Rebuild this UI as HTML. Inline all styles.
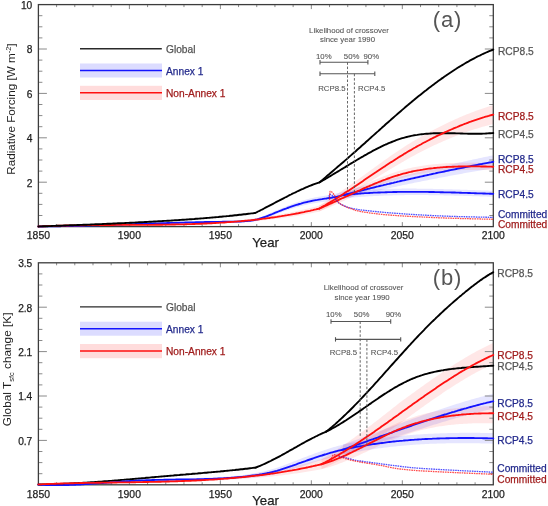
<!DOCTYPE html>
<html><head><meta charset="utf-8"><style>html,body{margin:0;padding:0;background:#fff;}svg{display:block;filter:blur(0.3px);}</style></head><body>
<svg width="548" height="506" viewBox="0 0 548 506">
<rect width="548" height="506" fill="#fff"/>
<path d="M38.40,226.20 L39.90,226.18 L41.40,226.16 L42.90,226.13 L44.40,226.11 L45.90,226.09 L47.40,226.06 L48.90,226.03 L50.40,226.01 L51.90,225.98 L53.40,225.95 L54.90,225.92 L56.40,225.89 L57.90,225.86 L59.40,225.82 L60.90,225.79 L62.40,225.76 L63.90,225.72 L65.40,225.68 L66.90,225.65 L68.40,225.61 L69.90,225.57 L71.40,225.53 L72.90,225.49 L74.40,225.45 L75.90,225.41 L77.40,225.37 L78.90,225.33 L80.40,225.28 L81.90,225.24 L83.40,225.20 L84.90,225.15 L86.40,225.11 L87.90,225.06 L89.40,225.01 L90.90,224.97 L92.40,224.92 L93.90,224.87 L95.40,224.82 L96.90,224.77 L98.40,224.72 L99.90,224.67 L101.40,224.62 L102.90,224.57 L104.40,224.52 L105.90,224.47 L107.40,224.42 L108.90,224.37 L110.40,224.31 L111.90,224.26 L113.40,224.21 L114.90,224.16 L116.40,224.10 L117.90,224.05 L119.40,224.00 L120.90,223.94 L122.40,223.89 L123.90,223.83 L125.40,223.78 L126.90,223.73 L128.40,223.67 L129.90,223.62 L131.40,223.56 L132.90,223.51 L134.40,223.45 L135.90,223.40 L137.40,223.34 L138.90,223.29 L140.40,223.24 L141.90,223.18 L143.40,223.13 L144.90,223.07 L146.40,223.02 L147.90,222.96 L149.40,222.91 L150.90,222.86 L152.40,222.80 L153.90,222.75 L155.40,222.70 L156.90,222.64 L158.40,222.59 L159.90,222.54 L161.40,222.49 L162.90,222.43 L164.40,222.38 L165.90,222.33 L167.40,222.28 L168.90,222.23 L170.40,222.18 L171.90,222.13 L173.40,222.08 L174.90,222.03 L176.40,221.98 L177.90,221.94 L179.40,221.89 L180.90,221.84 L182.40,221.79 L183.90,221.75 L185.40,221.70 L186.90,221.66 L188.40,221.61 L189.90,221.57 L191.40,221.53 L192.90,221.48 L194.40,221.44 L195.90,221.40 L197.40,221.36 L198.90,221.32 L200.40,221.28 L201.90,221.24 L203.40,221.21 L204.90,221.17 L206.40,221.13 L207.90,221.10 L209.40,221.06 L210.90,221.03 L212.40,221.00 L213.90,220.96 L215.40,220.93 L216.90,220.90 L218.40,220.87 L219.90,220.85 L221.40,220.82 L222.90,220.79 L224.40,220.77 L225.90,220.74 L227.40,220.72 L228.90,220.70 L230.40,220.68 L231.90,220.66 L233.40,220.64 L234.90,220.61 L236.40,220.59 L237.90,220.56 L239.40,220.52 L240.90,220.44 L242.40,220.34 L243.90,220.23 L245.40,220.09 L246.90,219.93 L248.40,219.74 L249.90,219.52 L251.40,219.28 L252.90,219.00 L254.40,218.68 L255.90,218.33 L257.40,217.93 L258.90,217.49 L260.40,217.01 L261.90,216.49 L263.40,215.93 L264.90,215.35 L266.40,214.74 L267.90,214.11 L269.40,213.46 L270.90,212.81 L272.40,212.15 L273.90,211.48 L275.40,210.83 L276.90,210.17 L278.40,209.53 L279.90,208.89 L281.40,208.26 L282.90,207.64 L284.40,207.03 L285.90,206.42 L287.40,205.83 L288.90,205.25 L290.40,204.68 L291.90,204.12 L293.40,203.57 L294.90,203.04 L296.40,202.52 L297.90,202.01 L299.40,201.52 L300.90,201.05 L302.40,200.59 L303.90,200.15 L305.40,199.73 L306.90,199.32 L308.40,198.94 L309.90,198.57 L311.40,198.22 L312.90,197.88 L314.40,197.57 L315.90,197.27 L317.40,196.98 L318.90,196.70 L320.40,196.43 L321.90,196.17 L323.40,195.91 L324.90,195.65 L326.40,195.38 L327.90,195.12 L329.40,194.85 L330.90,194.57 L332.40,194.28 L333.90,193.98 L335.40,193.67 L336.90,193.33 L338.40,192.98 L339.90,192.61 L341.40,192.21 L342.90,191.79 L343.80,191.53 L343.80,198.47 L342.90,198.70 L341.40,199.05 L339.90,199.38 L338.40,199.69 L336.90,199.97 L335.40,200.24 L333.90,200.49 L332.40,200.72 L330.90,200.94 L329.40,201.15 L327.90,201.36 L326.40,201.56 L324.90,201.75 L323.40,201.95 L321.90,202.14 L320.40,202.34 L318.90,202.54 L317.40,202.75 L315.90,202.98 L314.40,203.21 L312.90,203.46 L311.40,203.72 L309.90,204.01 L308.40,204.31 L306.90,204.63 L305.40,204.97 L303.90,205.33 L302.40,205.70 L300.90,206.09 L299.40,206.49 L297.90,206.91 L296.40,207.34 L294.90,207.78 L293.40,208.24 L291.90,208.71 L290.40,209.20 L288.90,209.69 L287.40,210.20 L285.90,210.72 L284.40,211.25 L282.90,211.78 L281.40,212.33 L279.90,212.89 L278.40,213.45 L276.90,214.02 L275.40,214.60 L273.90,215.18 L272.40,215.77 L270.90,216.35 L269.40,216.93 L267.90,217.50 L266.40,218.06 L264.90,218.59 L263.40,219.10 L261.90,219.58 L260.40,220.03 L258.90,220.44 L257.40,220.80 L255.90,221.13 L254.40,221.40 L252.90,221.65 L251.40,221.85 L249.90,222.02 L248.40,222.16 L246.90,222.27 L245.40,222.36 L243.90,222.42 L242.40,222.46 L240.90,222.49 L239.40,222.51 L237.90,222.54 L236.40,222.56 L234.90,222.58 L233.40,222.59 L231.90,222.60 L230.40,222.61 L228.90,222.62 L227.40,222.63 L225.90,222.64 L224.40,222.66 L222.90,222.67 L221.40,222.69 L219.90,222.71 L218.40,222.72 L216.90,222.74 L215.40,222.76 L213.90,222.78 L212.40,222.81 L210.90,222.83 L209.40,222.85 L207.90,222.87 L206.40,222.90 L204.90,222.93 L203.40,222.95 L201.90,222.98 L200.40,223.01 L198.90,223.04 L197.40,223.07 L195.90,223.10 L194.40,223.13 L192.90,223.16 L191.40,223.19 L189.90,223.22 L188.40,223.26 L186.90,223.29 L185.40,223.32 L183.90,223.36 L182.40,223.39 L180.90,223.43 L179.40,223.47 L177.90,223.50 L176.40,223.54 L174.90,223.58 L173.40,223.62 L171.90,223.66 L170.40,223.70 L168.90,223.74 L167.40,223.78 L165.90,223.82 L164.40,223.86 L162.90,223.90 L161.40,223.94 L159.90,223.98 L158.40,224.03 L156.90,224.07 L155.40,224.11 L153.90,224.15 L152.40,224.20 L150.90,224.24 L149.40,224.28 L147.90,224.33 L146.40,224.37 L144.90,224.41 L143.40,224.46 L141.90,224.50 L140.40,224.55 L138.90,224.59 L137.40,224.63 L135.90,224.68 L134.40,224.72 L132.90,224.77 L131.40,224.81 L129.90,224.85 L128.40,224.90 L126.90,224.94 L125.40,224.99 L123.90,225.03 L122.40,225.07 L120.90,225.12 L119.40,225.16 L117.90,225.20 L116.40,225.25 L114.90,225.29 L113.40,225.33 L111.90,225.37 L110.40,225.42 L108.90,225.46 L107.40,225.50 L105.90,225.54 L104.40,225.58 L102.90,225.62 L101.40,225.66 L99.90,225.70 L98.40,225.74 L96.90,225.78 L95.40,225.82 L93.90,225.86 L92.40,225.89 L90.90,225.93 L89.40,225.97 L87.90,226.00 L86.40,226.04 L84.90,226.08 L83.40,226.11 L81.90,226.14 L80.40,226.18 L78.90,226.21 L77.40,226.24 L75.90,226.27 L74.40,226.30 L72.90,226.33 L71.40,226.36 L69.90,226.39 L68.40,226.42 L66.90,226.45 L65.40,226.47 L63.90,226.50 L62.40,226.52 L60.90,226.55 L59.40,226.57 L57.90,226.59 L56.40,226.62 L54.90,226.64 L53.40,226.66 L51.90,226.68 L50.40,226.69 L48.90,226.71 L47.40,226.73 L45.90,226.74 L44.40,226.76 L42.90,226.77 L41.40,226.78 L39.90,226.79 L38.40,226.80 Z" fill="#0000ff" fill-opacity="0.10"/>
<path d="M38.40,226.20 L39.90,226.12 L41.40,226.05 L42.90,225.97 L44.40,225.90 L45.90,225.83 L47.40,225.77 L48.90,225.70 L50.40,225.64 L51.90,225.58 L53.40,225.52 L54.90,225.47 L56.40,225.41 L57.90,225.36 L59.40,225.31 L60.90,225.26 L62.40,225.22 L63.90,225.17 L65.40,225.13 L66.90,225.09 L68.40,225.05 L69.90,225.01 L71.40,224.97 L72.90,224.94 L74.40,224.90 L75.90,224.87 L77.40,224.84 L78.90,224.81 L80.40,224.78 L81.90,224.76 L83.40,224.73 L84.90,224.70 L86.40,224.68 L87.90,224.66 L89.40,224.64 L90.90,224.62 L92.40,224.60 L93.90,224.58 L95.40,224.56 L96.90,224.54 L98.40,224.52 L99.90,224.51 L101.40,224.49 L102.90,224.48 L104.40,224.47 L105.90,224.45 L107.40,224.44 L108.90,224.43 L110.40,224.42 L111.90,224.40 L113.40,224.39 L114.90,224.38 L116.40,224.37 L117.90,224.36 L119.40,224.35 L120.90,224.34 L122.40,224.33 L123.90,224.32 L125.40,224.31 L126.90,224.30 L128.40,224.29 L129.90,224.28 L131.40,224.27 L132.90,224.26 L134.40,224.25 L135.90,224.24 L137.40,224.22 L138.90,224.21 L140.40,224.20 L141.90,224.19 L143.40,224.17 L144.90,224.16 L146.40,224.15 L147.90,224.13 L149.40,224.11 L150.90,224.10 L152.40,224.08 L153.90,224.06 L155.40,224.04 L156.90,224.02 L158.40,224.00 L159.90,223.98 L161.40,223.96 L162.90,223.93 L164.40,223.91 L165.90,223.88 L167.40,223.85 L168.90,223.83 L170.40,223.80 L171.90,223.76 L173.40,223.73 L174.90,223.70 L176.40,223.66 L177.90,223.63 L179.40,223.59 L180.90,223.55 L182.40,223.51 L183.90,223.46 L185.40,223.42 L186.90,223.37 L188.40,223.32 L189.90,223.27 L191.40,223.22 L192.90,223.16 L194.40,223.11 L195.90,223.05 L197.40,222.99 L198.90,222.93 L200.40,222.86 L201.90,222.80 L203.40,222.73 L204.90,222.66 L206.40,222.58 L207.90,222.51 L209.40,222.43 L210.90,222.35 L212.40,222.26 L213.90,222.18 L215.40,222.09 L216.90,222.00 L218.40,221.91 L219.90,221.81 L221.40,221.71 L222.90,221.61 L224.40,221.51 L225.90,221.40 L227.40,221.29 L228.90,221.18 L230.40,221.06 L231.90,220.94 L233.40,220.82 L234.90,220.69 L236.40,220.56 L237.90,220.43 L239.40,220.30 L240.90,220.14 L242.40,219.97 L243.90,219.79 L245.40,219.61 L246.90,219.43 L248.40,219.24 L249.90,219.05 L251.40,218.85 L252.90,218.65 L254.40,218.45 L255.90,218.25 L257.40,218.04 L258.90,217.82 L260.40,217.61 L261.90,217.39 L263.40,217.16 L264.90,216.93 L266.40,216.70 L267.90,216.46 L269.40,216.22 L270.90,215.98 L272.40,215.73 L273.90,215.47 L275.40,215.22 L276.90,214.95 L278.40,214.69 L279.90,214.42 L281.40,214.14 L282.90,213.86 L284.40,213.58 L285.90,213.29 L287.40,213.00 L288.90,212.70 L290.40,212.40 L291.90,212.09 L293.40,211.78 L294.90,211.46 L296.40,211.14 L297.90,210.81 L299.40,210.48 L300.90,210.14 L302.40,209.80 L303.90,209.46 L305.40,209.10 L306.90,208.75 L308.40,208.38 L309.90,208.02 L311.40,207.64 L312.90,207.27 L314.40,206.88 L315.90,206.49 L317.40,206.10 L318.90,205.70 L319.20,205.62 L319.20,211.58 L318.90,211.65 L317.40,211.97 L315.90,212.29 L314.40,212.60 L312.90,212.91 L311.40,213.21 L309.90,213.51 L308.40,213.80 L306.90,214.09 L305.40,214.37 L303.90,214.65 L302.40,214.92 L300.90,215.19 L299.40,215.45 L297.90,215.71 L296.40,215.96 L294.90,216.21 L293.40,216.45 L291.90,216.68 L290.40,216.92 L288.90,217.14 L287.40,217.37 L285.90,217.59 L284.40,217.80 L282.90,218.01 L281.40,218.21 L279.90,218.41 L278.40,218.61 L276.90,218.80 L275.40,218.99 L273.90,219.17 L272.40,219.35 L270.90,219.52 L269.40,219.69 L267.90,219.86 L266.40,220.02 L264.90,220.18 L263.40,220.33 L261.90,220.48 L260.40,220.63 L258.90,220.77 L257.40,220.91 L255.90,221.04 L254.40,221.17 L252.90,221.30 L251.40,221.42 L249.90,221.54 L248.40,221.66 L246.90,221.77 L245.40,221.88 L243.90,221.98 L242.40,222.09 L240.90,222.19 L239.40,222.29 L237.90,222.42 L236.40,222.54 L234.90,222.66 L233.40,222.77 L231.90,222.88 L230.40,222.99 L228.90,223.10 L227.40,223.20 L225.90,223.30 L224.40,223.40 L222.90,223.49 L221.40,223.58 L219.90,223.67 L218.40,223.76 L216.90,223.84 L215.40,223.92 L213.90,224.00 L212.40,224.07 L210.90,224.15 L209.40,224.22 L207.90,224.28 L206.40,224.35 L204.90,224.41 L203.40,224.47 L201.90,224.53 L200.40,224.59 L198.90,224.64 L197.40,224.69 L195.90,224.74 L194.40,224.79 L192.90,224.84 L191.40,224.88 L189.90,224.92 L188.40,224.96 L186.90,225.00 L185.40,225.04 L183.90,225.07 L182.40,225.11 L180.90,225.14 L179.40,225.17 L177.90,225.20 L176.40,225.22 L174.90,225.25 L173.40,225.27 L171.90,225.29 L170.40,225.31 L168.90,225.33 L167.40,225.35 L165.90,225.37 L164.40,225.38 L162.90,225.40 L161.40,225.41 L159.90,225.43 L158.40,225.44 L156.90,225.45 L155.40,225.46 L153.90,225.47 L152.40,225.47 L150.90,225.48 L149.40,225.49 L147.90,225.49 L146.40,225.50 L144.90,225.50 L143.40,225.50 L141.90,225.51 L140.40,225.51 L138.90,225.51 L137.40,225.51 L135.90,225.51 L134.40,225.52 L132.90,225.52 L131.40,225.52 L129.90,225.52 L128.40,225.52 L126.90,225.52 L125.40,225.52 L123.90,225.52 L122.40,225.52 L120.90,225.51 L119.40,225.51 L117.90,225.51 L116.40,225.51 L114.90,225.51 L113.40,225.52 L111.90,225.52 L110.40,225.52 L108.90,225.52 L107.40,225.52 L105.90,225.52 L104.40,225.53 L102.90,225.53 L101.40,225.53 L99.90,225.54 L98.40,225.54 L96.90,225.55 L95.40,225.56 L93.90,225.56 L92.40,225.57 L90.90,225.58 L89.40,225.59 L87.90,225.60 L86.40,225.62 L84.90,225.63 L83.40,225.64 L81.90,225.66 L80.40,225.68 L78.90,225.69 L77.40,225.71 L75.90,225.73 L74.40,225.76 L72.90,225.78 L71.40,225.80 L69.90,225.83 L68.40,225.86 L66.90,225.89 L65.40,225.92 L63.90,225.95 L62.40,225.99 L60.90,226.02 L59.40,226.06 L57.90,226.10 L56.40,226.14 L54.90,226.18 L53.40,226.23 L51.90,226.28 L50.40,226.33 L48.90,226.38 L47.40,226.43 L45.90,226.49 L44.40,226.55 L42.90,226.61 L41.40,226.67 L39.90,226.73 L38.40,226.80 Z" fill="#ff0000" fill-opacity="0.095"/>
<path d="M343.80,191.48 L345.30,191.07 L346.80,190.65 L348.30,190.24 L349.80,189.83 L351.30,189.41 L352.80,189.00 L354.30,188.59 L355.80,188.19 L357.30,187.78 L358.80,187.37 L360.30,186.97 L361.80,186.56 L363.30,186.16 L364.80,185.76 L366.30,185.35 L367.80,184.95 L369.30,184.55 L370.80,184.16 L372.30,183.76 L373.80,183.36 L375.30,182.97 L376.80,182.57 L378.30,182.18 L379.80,181.79 L381.30,181.40 L382.80,181.01 L384.30,180.62 L385.80,180.23 L387.30,179.85 L388.80,179.46 L390.30,179.08 L391.80,178.69 L393.30,178.31 L394.80,177.93 L396.30,177.55 L397.80,177.17 L399.30,176.80 L400.80,176.42 L402.30,176.04 L403.80,175.67 L405.30,175.30 L406.80,174.92 L408.30,174.55 L409.80,174.18 L411.30,173.81 L412.80,173.45 L414.30,173.08 L415.80,172.71 L417.30,172.35 L418.80,171.99 L420.30,171.62 L421.80,171.26 L423.30,170.90 L424.80,170.54 L426.30,170.18 L427.80,169.82 L429.30,169.46 L430.80,169.11 L432.30,168.75 L433.80,168.40 L435.30,168.05 L436.80,167.70 L438.30,167.35 L439.80,167.00 L441.30,166.65 L442.80,166.30 L444.30,165.96 L445.80,165.61 L447.30,165.27 L448.80,164.92 L450.30,164.58 L451.80,164.24 L453.30,163.90 L454.80,163.57 L456.30,163.23 L457.80,162.89 L459.30,162.56 L460.80,162.23 L462.30,161.89 L463.80,161.56 L465.30,161.23 L466.80,160.91 L468.30,160.58 L469.80,160.25 L471.30,159.93 L472.80,159.60 L474.30,159.28 L475.80,158.96 L477.30,158.64 L478.80,158.32 L480.30,158.00 L481.80,157.68 L483.30,157.37 L484.80,157.05 L486.30,156.74 L487.80,156.43 L489.30,156.12 L490.80,155.81 L492.30,155.50 L493.30,155.30 L493.30,168.30 L492.30,168.47 L490.80,168.72 L489.30,168.97 L487.80,169.21 L486.30,169.47 L484.80,169.72 L483.30,169.97 L481.80,170.22 L480.30,170.48 L478.80,170.74 L477.30,170.99 L475.80,171.25 L474.30,171.51 L472.80,171.77 L471.30,172.04 L469.80,172.30 L468.30,172.56 L466.80,172.83 L465.30,173.10 L463.80,173.36 L462.30,173.63 L460.80,173.90 L459.30,174.18 L457.80,174.45 L456.30,174.72 L454.80,175.00 L453.30,175.27 L451.80,175.55 L450.30,175.83 L448.80,176.11 L447.30,176.39 L445.80,176.67 L444.30,176.95 L442.80,177.24 L441.30,177.52 L439.80,177.81 L438.30,178.10 L436.80,178.39 L435.30,178.68 L433.80,178.97 L432.30,179.26 L430.80,179.55 L429.30,179.85 L427.80,180.14 L426.30,180.44 L424.80,180.74 L423.30,181.03 L421.80,181.33 L420.30,181.64 L418.80,181.94 L417.30,182.24 L415.80,182.55 L414.30,182.86 L412.80,183.17 L411.30,183.47 L409.80,183.79 L408.30,184.10 L406.80,184.41 L405.30,184.72 L403.80,185.04 L402.30,185.35 L400.80,185.67 L399.30,185.99 L397.80,186.31 L396.30,186.63 L394.80,186.95 L393.30,187.27 L391.80,187.60 L390.30,187.92 L388.80,188.25 L387.30,188.57 L385.80,188.90 L384.30,189.23 L382.80,189.56 L381.30,189.89 L379.80,190.22 L378.30,190.56 L376.80,190.89 L375.30,191.23 L373.80,191.56 L372.30,191.90 L370.80,192.24 L369.30,192.58 L367.80,192.92 L366.30,193.26 L364.80,193.60 L363.30,193.95 L361.80,194.29 L360.30,194.64 L358.80,194.99 L357.30,195.33 L355.80,195.68 L354.30,196.03 L352.80,196.39 L351.30,196.74 L349.80,197.09 L348.30,197.45 L346.80,197.80 L345.30,198.16 L343.80,198.52 Z" fill="#0000ff" fill-opacity="0.10"/>
<path d="M343.80,191.50 L345.30,191.36 L346.80,191.21 L348.30,191.07 L349.80,190.94 L351.30,190.81 L352.80,190.68 L354.30,190.56 L355.80,190.44 L357.30,190.33 L358.80,190.22 L360.30,190.11 L361.80,190.01 L363.30,189.92 L364.80,189.82 L366.30,189.73 L367.80,189.65 L369.30,189.57 L370.80,189.49 L372.30,189.41 L373.80,189.34 L375.30,189.28 L376.80,189.21 L378.30,189.15 L379.80,189.09 L381.30,189.04 L382.80,188.99 L384.30,188.94 L385.80,188.90 L387.30,188.86 L388.80,188.82 L390.30,188.79 L391.80,188.76 L393.30,188.73 L394.80,188.70 L396.30,188.68 L397.80,188.66 L399.30,188.64 L400.80,188.63 L402.30,188.62 L403.80,188.61 L405.30,188.60 L406.80,188.60 L408.30,188.59 L409.80,188.60 L411.30,188.60 L412.80,188.60 L414.30,188.61 L415.80,188.62 L417.30,188.63 L418.80,188.65 L420.30,188.66 L421.80,188.68 L423.30,188.70 L424.80,188.72 L426.30,188.74 L427.80,188.76 L429.30,188.79 L430.80,188.82 L432.30,188.84 L433.80,188.88 L435.30,188.91 L436.80,188.94 L438.30,188.98 L439.80,189.01 L441.30,189.05 L442.80,189.09 L444.30,189.13 L445.80,189.17 L447.30,189.21 L448.80,189.26 L450.30,189.30 L451.80,189.35 L453.30,189.39 L454.80,189.44 L456.30,189.49 L457.80,189.54 L459.30,189.59 L460.80,189.64 L462.30,189.69 L463.80,189.74 L465.30,189.79 L466.80,189.85 L468.30,189.90 L469.80,189.95 L471.30,190.01 L472.80,190.06 L474.30,190.11 L475.80,190.17 L477.30,190.22 L478.80,190.28 L480.30,190.33 L481.80,190.39 L483.30,190.44 L484.80,190.50 L486.30,190.55 L487.80,190.61 L489.30,190.66 L490.80,190.71 L492.30,190.77 L493.30,190.80 L493.30,196.80 L492.30,196.77 L490.80,196.72 L489.30,196.68 L487.80,196.63 L486.30,196.59 L484.80,196.54 L483.30,196.50 L481.80,196.45 L480.30,196.40 L478.80,196.36 L477.30,196.31 L475.80,196.26 L474.30,196.22 L472.80,196.17 L471.30,196.12 L469.80,196.08 L468.30,196.03 L466.80,195.99 L465.30,195.94 L463.80,195.90 L462.30,195.86 L460.80,195.81 L459.30,195.77 L457.80,195.73 L456.30,195.69 L454.80,195.65 L453.30,195.61 L451.80,195.57 L450.30,195.53 L448.80,195.50 L447.30,195.46 L445.80,195.43 L444.30,195.40 L442.80,195.36 L441.30,195.33 L439.80,195.30 L438.30,195.28 L436.80,195.25 L435.30,195.22 L433.80,195.20 L432.30,195.18 L430.80,195.16 L429.30,195.14 L427.80,195.12 L426.30,195.10 L424.80,195.09 L423.30,195.08 L421.80,195.07 L420.30,195.06 L418.80,195.06 L417.30,195.05 L415.80,195.05 L414.30,195.06 L412.80,195.06 L411.30,195.07 L409.80,195.07 L408.30,195.09 L406.80,195.10 L405.30,195.11 L403.80,195.13 L402.30,195.15 L400.80,195.18 L399.30,195.20 L397.80,195.23 L396.30,195.26 L394.80,195.30 L393.30,195.34 L391.80,195.38 L390.30,195.42 L388.80,195.47 L387.30,195.51 L385.80,195.57 L384.30,195.62 L382.80,195.68 L381.30,195.74 L379.80,195.81 L378.30,195.88 L376.80,195.95 L375.30,196.02 L373.80,196.10 L372.30,196.19 L370.80,196.27 L369.30,196.36 L367.80,196.45 L366.30,196.55 L364.80,196.65 L363.30,196.76 L361.80,196.87 L360.30,196.98 L358.80,197.10 L357.30,197.22 L355.80,197.34 L354.30,197.47 L352.80,197.61 L351.30,197.74 L349.80,197.88 L348.30,198.03 L346.80,198.18 L345.30,198.34 L343.80,198.50 Z" fill="#0000ff" fill-opacity="0.10"/>
<path d="M319.20,205.59 L320.70,204.68 L322.20,203.75 L323.70,202.81 L325.20,201.87 L326.70,200.91 L328.20,199.95 L329.70,198.98 L331.20,197.99 L332.70,197.00 L334.20,196.01 L335.70,195.00 L337.20,193.99 L338.70,192.97 L340.20,191.94 L341.70,190.91 L343.20,189.87 L344.70,188.83 L346.20,187.78 L347.70,186.73 L349.20,185.67 L350.70,184.61 L352.20,183.54 L353.70,182.47 L355.20,181.40 L356.70,180.32 L358.20,179.24 L359.70,178.16 L361.20,177.08 L362.70,176.00 L364.20,174.91 L365.70,173.83 L367.20,172.74 L368.70,171.65 L370.20,170.57 L371.70,169.48 L373.20,168.40 L374.70,167.31 L376.20,166.23 L377.70,165.15 L379.20,164.07 L380.70,163.00 L382.20,161.92 L383.70,160.85 L385.20,159.79 L386.70,158.73 L388.20,157.67 L389.70,156.62 L391.20,155.57 L392.70,154.52 L394.20,153.49 L395.70,152.45 L397.20,151.43 L398.70,150.41 L400.20,149.40 L401.70,148.43 L403.20,147.47 L404.70,146.51 L406.20,145.56 L407.70,144.62 L409.20,143.69 L410.70,142.77 L412.20,141.86 L413.70,140.96 L415.20,140.07 L416.70,139.18 L418.20,138.31 L419.70,137.44 L421.20,136.59 L422.70,135.74 L424.20,134.90 L425.70,134.07 L427.20,133.24 L428.70,132.43 L430.20,131.62 L431.70,130.82 L433.20,130.03 L434.70,129.25 L436.20,128.48 L437.70,127.71 L439.20,126.95 L440.70,126.20 L442.20,125.45 L443.70,124.72 L445.20,123.99 L446.70,123.27 L448.20,122.55 L449.70,121.84 L451.20,121.14 L452.70,120.45 L454.20,119.77 L455.70,119.09 L457.20,118.42 L458.70,117.76 L460.20,117.11 L461.70,116.47 L463.20,115.83 L464.70,115.20 L466.20,114.59 L467.70,113.98 L469.20,113.38 L470.70,112.79 L472.20,112.21 L473.70,111.64 L475.20,111.07 L476.70,110.52 L478.20,109.98 L479.70,109.45 L481.20,108.92 L482.70,108.41 L484.20,107.91 L485.70,107.42 L487.20,106.94 L488.70,106.47 L490.20,106.01 L491.70,105.56 L493.20,105.13 L493.30,105.10 L493.30,124.10 L493.20,124.13 L491.70,124.49 L490.20,124.86 L488.70,125.24 L487.20,125.63 L485.70,126.03 L484.20,126.44 L482.70,126.86 L481.20,127.29 L479.70,127.73 L478.20,128.18 L476.70,128.65 L475.20,129.12 L473.70,129.60 L472.20,130.09 L470.70,130.59 L469.20,131.10 L467.70,131.62 L466.20,132.15 L464.70,132.68 L463.20,133.23 L461.70,133.78 L460.20,134.35 L458.70,134.92 L457.20,135.50 L455.70,136.08 L454.20,136.68 L452.70,137.28 L451.20,137.90 L449.70,138.52 L448.20,139.14 L446.70,139.78 L445.20,140.42 L443.70,141.07 L442.20,141.72 L440.70,142.39 L439.20,143.06 L437.70,143.74 L436.20,144.42 L434.70,145.12 L433.20,145.82 L431.70,146.53 L430.20,147.25 L428.70,147.97 L427.20,148.71 L425.70,149.45 L424.20,150.20 L422.70,150.96 L421.20,151.73 L419.70,152.50 L418.20,153.29 L416.70,154.08 L415.20,154.88 L413.70,155.70 L412.20,156.52 L410.70,157.35 L409.20,158.19 L407.70,159.04 L406.20,159.90 L404.70,160.76 L403.20,161.64 L401.70,162.52 L400.20,163.41 L398.70,164.28 L397.20,165.15 L395.70,166.03 L394.20,166.91 L392.70,167.80 L391.20,168.70 L389.70,169.60 L388.20,170.50 L386.70,171.41 L385.20,172.33 L383.70,173.25 L382.20,174.17 L380.70,175.09 L379.20,176.02 L377.70,176.95 L376.20,177.88 L374.70,178.81 L373.20,179.75 L371.70,180.69 L370.20,181.62 L368.70,182.56 L367.20,183.50 L365.70,184.44 L364.20,185.38 L362.70,186.31 L361.20,187.25 L359.70,188.18 L358.20,189.12 L356.70,190.05 L355.20,190.97 L353.70,191.90 L352.20,192.82 L350.70,193.74 L349.20,194.65 L347.70,195.56 L346.20,196.47 L344.70,197.37 L343.20,198.26 L341.70,199.15 L340.20,200.04 L338.70,200.92 L337.20,201.79 L335.70,202.65 L334.20,203.51 L332.70,204.36 L331.20,205.20 L329.70,206.03 L328.20,206.86 L326.70,207.67 L325.20,208.48 L323.70,209.28 L322.20,210.07 L320.70,210.84 L319.20,211.61 Z" fill="#ff0000" fill-opacity="0.095"/>
<path d="M319.20,205.60 L320.70,204.94 L322.20,204.28 L323.70,203.62 L325.20,202.94 L326.70,202.26 L328.20,201.58 L329.70,200.89 L331.20,200.20 L332.70,199.50 L334.20,198.80 L335.70,198.10 L337.20,197.40 L338.70,196.69 L340.20,195.98 L341.70,195.27 L343.20,194.55 L344.70,193.84 L346.20,193.13 L347.70,192.41 L349.20,191.70 L350.70,190.99 L352.20,190.28 L353.70,189.57 L355.20,188.86 L356.70,188.16 L358.20,187.45 L359.70,186.75 L361.20,186.06 L362.70,185.37 L364.20,184.68 L365.70,184.00 L367.20,183.32 L368.70,182.65 L370.20,181.99 L371.70,181.33 L373.20,180.68 L374.70,180.03 L376.20,179.40 L377.70,178.77 L379.20,178.15 L380.70,177.54 L382.20,176.94 L383.70,176.34 L385.20,175.76 L386.70,175.19 L388.20,174.63 L389.70,174.08 L391.20,173.54 L392.70,173.01 L394.20,172.50 L395.70,172.00 L397.20,171.51 L398.70,171.03 L400.20,170.58 L401.70,170.16 L403.20,169.75 L404.70,169.36 L406.20,168.98 L407.70,168.62 L409.20,168.27 L410.70,167.94 L412.20,167.61 L413.70,167.30 L415.20,167.01 L416.70,166.72 L418.20,166.45 L419.70,166.19 L421.20,165.94 L422.70,165.70 L424.20,165.47 L425.70,165.26 L427.20,165.05 L428.70,164.86 L430.20,164.67 L431.70,164.50 L433.20,164.34 L434.70,164.18 L436.20,164.04 L437.70,163.90 L439.20,163.77 L440.70,163.65 L442.20,163.54 L443.70,163.44 L445.20,163.35 L446.70,163.26 L448.20,163.19 L449.70,163.11 L451.20,163.05 L452.70,162.99 L454.20,162.94 L455.70,162.90 L457.20,162.86 L458.70,162.83 L460.20,162.80 L461.70,162.78 L463.20,162.77 L464.70,162.76 L466.20,162.75 L467.70,162.75 L469.20,162.75 L470.70,162.76 L472.20,162.77 L473.70,162.79 L475.20,162.80 L476.70,162.83 L478.20,162.85 L479.70,162.88 L481.20,162.91 L482.70,162.94 L484.20,162.97 L485.70,163.00 L487.20,163.04 L488.70,163.08 L490.20,163.12 L491.70,163.16 L493.20,163.20 L493.30,163.20 L493.30,170.20 L493.20,170.20 L491.70,170.17 L490.20,170.15 L488.70,170.13 L487.20,170.10 L485.70,170.08 L484.20,170.06 L482.70,170.05 L481.20,170.03 L479.70,170.02 L478.20,170.01 L476.70,170.00 L475.20,170.00 L473.70,169.99 L472.20,170.00 L470.70,170.00 L469.20,170.01 L467.70,170.02 L466.20,170.04 L464.70,170.06 L463.20,170.09 L461.70,170.12 L460.20,170.16 L458.70,170.20 L457.20,170.25 L455.70,170.30 L454.20,170.36 L452.70,170.43 L451.20,170.50 L449.70,170.58 L448.20,170.67 L446.70,170.76 L445.20,170.86 L443.70,170.97 L442.20,171.09 L440.70,171.22 L439.20,171.35 L437.70,171.49 L436.20,171.65 L434.70,171.81 L433.20,171.98 L431.70,172.16 L430.20,172.35 L428.70,172.55 L427.20,172.76 L425.70,172.98 L424.20,173.21 L422.70,173.45 L421.20,173.71 L419.70,173.97 L418.20,174.25 L416.70,174.54 L415.20,174.84 L413.70,175.16 L412.20,175.48 L410.70,175.82 L409.20,176.17 L407.70,176.54 L406.20,176.92 L404.70,177.31 L403.20,177.72 L401.70,178.14 L400.20,178.58 L398.70,179.00 L397.20,179.44 L395.70,179.89 L394.20,180.36 L392.70,180.83 L391.20,181.32 L389.70,181.82 L388.20,182.34 L386.70,182.86 L385.20,183.40 L383.70,183.94 L382.20,184.50 L380.70,185.06 L379.20,185.64 L377.70,186.22 L376.20,186.81 L374.70,187.41 L373.20,188.02 L371.70,188.63 L370.20,189.25 L368.70,189.88 L367.20,190.51 L365.70,191.15 L364.20,191.80 L362.70,192.45 L361.20,193.10 L359.70,193.76 L358.20,194.42 L356.70,195.09 L355.20,195.75 L353.70,196.42 L352.20,197.10 L350.70,197.77 L349.20,198.45 L347.70,199.12 L346.20,199.80 L344.70,200.47 L343.20,201.15 L341.70,201.83 L340.20,202.50 L338.70,203.17 L337.20,203.84 L335.70,204.51 L334.20,205.18 L332.70,205.84 L331.20,206.50 L329.70,207.16 L328.20,207.81 L326.70,208.45 L325.20,209.10 L323.70,209.73 L322.20,210.36 L320.70,210.99 L319.20,211.60 Z" fill="#ff0000" fill-opacity="0.095"/>
<line x1="80" y1="48.70" x2="161.8" y2="48.70" stroke="#2a2a2a" stroke-width="1.35"/>
<rect x="80" y="63.50" width="82" height="14" fill="#dcdcff"/>
<line x1="80" y1="70.50" x2="162" y2="70.50" stroke="#1414ff" stroke-width="1.4"/>
<rect x="80" y="85.80" width="82" height="14.2" fill="#ffdcdc"/>
<line x1="80" y1="92.80" x2="162" y2="92.80" stroke="#ff1010" stroke-width="1.5"/>
<text x="166.00" y="52.80" font-size="10.20" fill="#555555" stroke="#555555" stroke-width="0.25" font-family="Liberation Sans, sans-serif" >Global</text>
<text x="166.00" y="74.80" font-size="10.20" fill="#232a8c" stroke="#232a8c" stroke-width="0.25" font-family="Liberation Sans, sans-serif" >Annex 1</text>
<text x="166.00" y="96.60" font-size="10.20" fill="#a01c1c" stroke="#a01c1c" stroke-width="0.25" font-family="Liberation Sans, sans-serif" >Non-Annex 1</text>
<line x1="38.40" y1="215.50" x2="42.40" y2="215.50" stroke="#8a8a8a" stroke-width="1"/>
<line x1="493.30" y1="215.50" x2="489.30" y2="215.50" stroke="#8a8a8a" stroke-width="1"/>
<line x1="38.40" y1="204.40" x2="42.40" y2="204.40" stroke="#8a8a8a" stroke-width="1"/>
<line x1="493.30" y1="204.40" x2="489.30" y2="204.40" stroke="#8a8a8a" stroke-width="1"/>
<line x1="38.40" y1="193.30" x2="42.40" y2="193.30" stroke="#8a8a8a" stroke-width="1"/>
<line x1="493.30" y1="193.30" x2="489.30" y2="193.30" stroke="#8a8a8a" stroke-width="1"/>
<line x1="38.40" y1="182.20" x2="46.90" y2="182.20" stroke="#8a8a8a" stroke-width="1"/>
<line x1="493.30" y1="182.20" x2="484.80" y2="182.20" stroke="#8a8a8a" stroke-width="1"/>
<line x1="38.40" y1="171.10" x2="42.40" y2="171.10" stroke="#8a8a8a" stroke-width="1"/>
<line x1="493.30" y1="171.10" x2="489.30" y2="171.10" stroke="#8a8a8a" stroke-width="1"/>
<line x1="38.40" y1="160.00" x2="42.40" y2="160.00" stroke="#8a8a8a" stroke-width="1"/>
<line x1="493.30" y1="160.00" x2="489.30" y2="160.00" stroke="#8a8a8a" stroke-width="1"/>
<line x1="38.40" y1="148.90" x2="42.40" y2="148.90" stroke="#8a8a8a" stroke-width="1"/>
<line x1="493.30" y1="148.90" x2="489.30" y2="148.90" stroke="#8a8a8a" stroke-width="1"/>
<line x1="38.40" y1="137.80" x2="46.90" y2="137.80" stroke="#8a8a8a" stroke-width="1"/>
<line x1="493.30" y1="137.80" x2="484.80" y2="137.80" stroke="#8a8a8a" stroke-width="1"/>
<line x1="38.40" y1="126.70" x2="42.40" y2="126.70" stroke="#8a8a8a" stroke-width="1"/>
<line x1="493.30" y1="126.70" x2="489.30" y2="126.70" stroke="#8a8a8a" stroke-width="1"/>
<line x1="38.40" y1="115.60" x2="42.40" y2="115.60" stroke="#8a8a8a" stroke-width="1"/>
<line x1="493.30" y1="115.60" x2="489.30" y2="115.60" stroke="#8a8a8a" stroke-width="1"/>
<line x1="38.40" y1="104.50" x2="42.40" y2="104.50" stroke="#8a8a8a" stroke-width="1"/>
<line x1="493.30" y1="104.50" x2="489.30" y2="104.50" stroke="#8a8a8a" stroke-width="1"/>
<line x1="38.40" y1="93.40" x2="46.90" y2="93.40" stroke="#8a8a8a" stroke-width="1"/>
<line x1="493.30" y1="93.40" x2="484.80" y2="93.40" stroke="#8a8a8a" stroke-width="1"/>
<line x1="38.40" y1="82.30" x2="42.40" y2="82.30" stroke="#8a8a8a" stroke-width="1"/>
<line x1="493.30" y1="82.30" x2="489.30" y2="82.30" stroke="#8a8a8a" stroke-width="1"/>
<line x1="38.40" y1="71.20" x2="42.40" y2="71.20" stroke="#8a8a8a" stroke-width="1"/>
<line x1="493.30" y1="71.20" x2="489.30" y2="71.20" stroke="#8a8a8a" stroke-width="1"/>
<line x1="38.40" y1="60.10" x2="42.40" y2="60.10" stroke="#8a8a8a" stroke-width="1"/>
<line x1="493.30" y1="60.10" x2="489.30" y2="60.10" stroke="#8a8a8a" stroke-width="1"/>
<line x1="38.40" y1="49.00" x2="46.90" y2="49.00" stroke="#8a8a8a" stroke-width="1"/>
<line x1="493.30" y1="49.00" x2="484.80" y2="49.00" stroke="#8a8a8a" stroke-width="1"/>
<line x1="38.40" y1="37.90" x2="42.40" y2="37.90" stroke="#8a8a8a" stroke-width="1"/>
<line x1="493.30" y1="37.90" x2="489.30" y2="37.90" stroke="#8a8a8a" stroke-width="1"/>
<line x1="38.40" y1="26.80" x2="42.40" y2="26.80" stroke="#8a8a8a" stroke-width="1"/>
<line x1="493.30" y1="26.80" x2="489.30" y2="26.80" stroke="#8a8a8a" stroke-width="1"/>
<line x1="38.40" y1="15.70" x2="42.40" y2="15.70" stroke="#8a8a8a" stroke-width="1"/>
<line x1="493.30" y1="15.70" x2="489.30" y2="15.70" stroke="#8a8a8a" stroke-width="1"/>
<line x1="56.60" y1="226.60" x2="56.60" y2="224.10" stroke="#8a8a8a" stroke-width="1"/>
<line x1="56.60" y1="4.60" x2="56.60" y2="7.10" stroke="#8a8a8a" stroke-width="1"/>
<line x1="74.79" y1="226.60" x2="74.79" y2="224.10" stroke="#8a8a8a" stroke-width="1"/>
<line x1="74.79" y1="4.60" x2="74.79" y2="7.10" stroke="#8a8a8a" stroke-width="1"/>
<line x1="92.99" y1="226.60" x2="92.99" y2="224.10" stroke="#8a8a8a" stroke-width="1"/>
<line x1="92.99" y1="4.60" x2="92.99" y2="7.10" stroke="#8a8a8a" stroke-width="1"/>
<line x1="111.18" y1="226.60" x2="111.18" y2="224.10" stroke="#8a8a8a" stroke-width="1"/>
<line x1="111.18" y1="4.60" x2="111.18" y2="7.10" stroke="#8a8a8a" stroke-width="1"/>
<line x1="129.38" y1="226.60" x2="129.38" y2="222.10" stroke="#8a8a8a" stroke-width="1"/>
<line x1="129.38" y1="4.60" x2="129.38" y2="9.10" stroke="#8a8a8a" stroke-width="1"/>
<line x1="147.58" y1="226.60" x2="147.58" y2="224.10" stroke="#8a8a8a" stroke-width="1"/>
<line x1="147.58" y1="4.60" x2="147.58" y2="7.10" stroke="#8a8a8a" stroke-width="1"/>
<line x1="165.77" y1="226.60" x2="165.77" y2="224.10" stroke="#8a8a8a" stroke-width="1"/>
<line x1="165.77" y1="4.60" x2="165.77" y2="7.10" stroke="#8a8a8a" stroke-width="1"/>
<line x1="183.97" y1="226.60" x2="183.97" y2="224.10" stroke="#8a8a8a" stroke-width="1"/>
<line x1="183.97" y1="4.60" x2="183.97" y2="7.10" stroke="#8a8a8a" stroke-width="1"/>
<line x1="202.16" y1="226.60" x2="202.16" y2="224.10" stroke="#8a8a8a" stroke-width="1"/>
<line x1="202.16" y1="4.60" x2="202.16" y2="7.10" stroke="#8a8a8a" stroke-width="1"/>
<line x1="220.36" y1="226.60" x2="220.36" y2="222.10" stroke="#8a8a8a" stroke-width="1"/>
<line x1="220.36" y1="4.60" x2="220.36" y2="9.10" stroke="#8a8a8a" stroke-width="1"/>
<line x1="238.56" y1="226.60" x2="238.56" y2="224.10" stroke="#8a8a8a" stroke-width="1"/>
<line x1="238.56" y1="4.60" x2="238.56" y2="7.10" stroke="#8a8a8a" stroke-width="1"/>
<line x1="256.75" y1="226.60" x2="256.75" y2="224.10" stroke="#8a8a8a" stroke-width="1"/>
<line x1="256.75" y1="4.60" x2="256.75" y2="7.10" stroke="#8a8a8a" stroke-width="1"/>
<line x1="274.95" y1="226.60" x2="274.95" y2="224.10" stroke="#8a8a8a" stroke-width="1"/>
<line x1="274.95" y1="4.60" x2="274.95" y2="7.10" stroke="#8a8a8a" stroke-width="1"/>
<line x1="293.14" y1="226.60" x2="293.14" y2="224.10" stroke="#8a8a8a" stroke-width="1"/>
<line x1="293.14" y1="4.60" x2="293.14" y2="7.10" stroke="#8a8a8a" stroke-width="1"/>
<line x1="311.34" y1="226.60" x2="311.34" y2="222.10" stroke="#8a8a8a" stroke-width="1"/>
<line x1="311.34" y1="4.60" x2="311.34" y2="9.10" stroke="#8a8a8a" stroke-width="1"/>
<line x1="329.54" y1="226.60" x2="329.54" y2="224.10" stroke="#8a8a8a" stroke-width="1"/>
<line x1="329.54" y1="4.60" x2="329.54" y2="7.10" stroke="#8a8a8a" stroke-width="1"/>
<line x1="347.73" y1="226.60" x2="347.73" y2="224.10" stroke="#8a8a8a" stroke-width="1"/>
<line x1="347.73" y1="4.60" x2="347.73" y2="7.10" stroke="#8a8a8a" stroke-width="1"/>
<line x1="365.93" y1="226.60" x2="365.93" y2="224.10" stroke="#8a8a8a" stroke-width="1"/>
<line x1="365.93" y1="4.60" x2="365.93" y2="7.10" stroke="#8a8a8a" stroke-width="1"/>
<line x1="384.12" y1="226.60" x2="384.12" y2="224.10" stroke="#8a8a8a" stroke-width="1"/>
<line x1="384.12" y1="4.60" x2="384.12" y2="7.10" stroke="#8a8a8a" stroke-width="1"/>
<line x1="402.32" y1="226.60" x2="402.32" y2="222.10" stroke="#8a8a8a" stroke-width="1"/>
<line x1="402.32" y1="4.60" x2="402.32" y2="9.10" stroke="#8a8a8a" stroke-width="1"/>
<line x1="420.52" y1="226.60" x2="420.52" y2="224.10" stroke="#8a8a8a" stroke-width="1"/>
<line x1="420.52" y1="4.60" x2="420.52" y2="7.10" stroke="#8a8a8a" stroke-width="1"/>
<line x1="438.71" y1="226.60" x2="438.71" y2="224.10" stroke="#8a8a8a" stroke-width="1"/>
<line x1="438.71" y1="4.60" x2="438.71" y2="7.10" stroke="#8a8a8a" stroke-width="1"/>
<line x1="456.91" y1="226.60" x2="456.91" y2="224.10" stroke="#8a8a8a" stroke-width="1"/>
<line x1="456.91" y1="4.60" x2="456.91" y2="7.10" stroke="#8a8a8a" stroke-width="1"/>
<line x1="475.10" y1="226.60" x2="475.10" y2="224.10" stroke="#8a8a8a" stroke-width="1"/>
<line x1="475.10" y1="4.60" x2="475.10" y2="7.10" stroke="#8a8a8a" stroke-width="1"/>
<rect x="38.40" y="4.60" width="454.90" height="222.00" fill="none" stroke="#3c3c3c" stroke-width="1.3"/>
<text x="32.30" y="9.00" font-size="10.20" fill="#1e1e1e" text-anchor="end" stroke="#1e1e1e" stroke-width="0.25" font-family="Liberation Sans, sans-serif" >10</text>
<text x="32.30" y="53.40" font-size="10.20" fill="#1e1e1e" text-anchor="end" stroke="#1e1e1e" stroke-width="0.25" font-family="Liberation Sans, sans-serif" >8</text>
<text x="32.30" y="97.80" font-size="10.20" fill="#1e1e1e" text-anchor="end" stroke="#1e1e1e" stroke-width="0.25" font-family="Liberation Sans, sans-serif" >6</text>
<text x="32.30" y="142.20" font-size="10.20" fill="#1e1e1e" text-anchor="end" stroke="#1e1e1e" stroke-width="0.25" font-family="Liberation Sans, sans-serif" >4</text>
<text x="32.30" y="186.60" font-size="10.20" fill="#1e1e1e" text-anchor="end" stroke="#1e1e1e" stroke-width="0.25" font-family="Liberation Sans, sans-serif" >2</text>
<text x="38.40" y="239.40" font-size="10.40" fill="#1e1e1e" text-anchor="middle" stroke="#1e1e1e" stroke-width="0.25" font-family="Liberation Sans, sans-serif" >1850</text>
<text x="129.38" y="239.40" font-size="10.40" fill="#1e1e1e" text-anchor="middle" stroke="#1e1e1e" stroke-width="0.25" font-family="Liberation Sans, sans-serif" >1900</text>
<text x="220.36" y="239.40" font-size="10.40" fill="#1e1e1e" text-anchor="middle" stroke="#1e1e1e" stroke-width="0.25" font-family="Liberation Sans, sans-serif" >1950</text>
<text x="311.34" y="239.40" font-size="10.40" fill="#1e1e1e" text-anchor="middle" stroke="#1e1e1e" stroke-width="0.25" font-family="Liberation Sans, sans-serif" >2000</text>
<text x="402.32" y="239.40" font-size="10.40" fill="#1e1e1e" text-anchor="middle" stroke="#1e1e1e" stroke-width="0.25" font-family="Liberation Sans, sans-serif" >2050</text>
<text x="493.30" y="239.40" font-size="10.40" fill="#1e1e1e" text-anchor="middle" stroke="#1e1e1e" stroke-width="0.25" font-family="Liberation Sans, sans-serif" >2100</text>
<text x="265.60" y="246.70" font-size="13.20" fill="#1e1e1e" text-anchor="middle" stroke="#1e1e1e" stroke-width="0.25" font-family="Liberation Sans, sans-serif" >Year</text>
<path d="M38.4,226.5 L39.9,226.5 L41.4,226.5 L42.9,226.5 L44.4,226.4 L45.9,226.4 L47.4,226.4 L48.9,226.4 L50.4,226.4 L51.9,226.3 L53.4,226.3 L54.9,226.3 L56.4,226.3 L57.9,226.2 L59.4,226.2 L60.9,226.2 L62.4,226.1 L63.9,226.1 L65.4,226.1 L66.9,226.0 L68.4,226.0 L69.9,226.0 L71.4,225.9 L72.9,225.9 L74.4,225.9 L75.9,225.8 L77.4,225.8 L78.9,225.8 L80.4,225.7 L81.9,225.7 L83.4,225.7 L84.9,225.6 L86.4,225.6 L87.9,225.5 L89.4,225.5 L90.9,225.4 L92.4,225.4 L93.9,225.4 L95.4,225.3 L96.9,225.3 L98.4,225.2 L99.9,225.2 L101.4,225.1 L102.9,225.1 L104.4,225.1 L105.9,225.0 L107.4,225.0 L108.9,224.9 L110.4,224.9 L111.9,224.8 L113.4,224.8 L114.9,224.7 L116.4,224.7 L117.9,224.6 L119.4,224.6 L120.9,224.5 L122.4,224.5 L123.9,224.4 L125.4,224.4 L126.9,224.3 L128.4,224.3 L129.9,224.2 L131.4,224.2 L132.9,224.1 L134.4,224.1 L135.9,224.0 L137.4,224.0 L138.9,223.9 L140.4,223.9 L141.9,223.8 L143.4,223.8 L144.9,223.7 L146.4,223.7 L147.9,223.6 L149.4,223.6 L150.9,223.5 L152.4,223.5 L153.9,223.5 L155.4,223.4 L156.9,223.4 L158.4,223.3 L159.9,223.3 L161.4,223.2 L162.9,223.2 L164.4,223.1 L165.9,223.1 L167.4,223.0 L168.9,223.0 L170.4,222.9 L171.9,222.9 L173.4,222.8 L174.9,222.8 L176.4,222.8 L177.9,222.7 L179.4,222.7 L180.9,222.6 L182.4,222.6 L183.9,222.6 L185.4,222.5 L186.9,222.5 L188.4,222.4 L189.9,222.4 L191.4,222.4 L192.9,222.3 L194.4,222.3 L195.9,222.2 L197.4,222.2 L198.9,222.2 L200.4,222.1 L201.9,222.1 L203.4,222.1 L204.9,222.0 L206.4,222.0 L207.9,222.0 L209.4,222.0 L210.9,221.9 L212.4,221.9 L213.9,221.9 L215.4,221.8 L216.9,221.8 L218.4,221.8 L219.9,221.8 L221.4,221.8 L222.9,221.7 L224.4,221.7 L225.9,221.7 L227.4,221.7 L228.9,221.7 L230.4,221.6 L231.9,221.6 L233.4,221.6 L234.9,221.6 L236.4,221.6 L237.9,221.6 L239.4,221.5 L240.9,221.5 L242.4,221.4 L243.9,221.3 L245.4,221.2 L246.9,221.1 L248.4,220.9 L249.9,220.8 L251.4,220.6 L252.9,220.3 L254.4,220.0 L255.9,219.7 L257.4,219.4 L258.9,219.0 L260.4,218.5 L261.9,218.0 L263.4,217.5 L264.9,217.0 L266.4,216.4 L267.9,215.8 L269.4,215.2 L270.9,214.6 L272.4,214.0 L273.9,213.3 L275.4,212.7 L276.9,212.1 L278.4,211.5 L279.9,210.9 L281.4,210.3 L282.9,209.7 L284.4,209.1 L285.9,208.6 L287.4,208.0 L288.9,207.5 L290.4,206.9 L291.9,206.4 L293.4,205.9 L294.9,205.4 L296.4,204.9 L297.9,204.5 L299.4,204.0 L300.9,203.6 L302.4,203.1 L303.9,202.7 L305.4,202.3 L306.9,202.0 L308.4,201.6 L309.9,201.3 L311.4,201.0 L312.9,200.7 L314.4,200.4 L315.9,200.1 L317.4,199.9 L318.9,199.6 L320.4,199.4 L321.9,199.2 L323.4,198.9 L324.9,198.7 L326.4,198.5 L327.9,198.2 L329.4,198.0 L330.9,197.8 L332.4,197.5 L333.9,197.2 L335.4,197.0 L336.9,196.7 L338.4,196.3 L339.9,196.0 L341.4,195.6 L342.9,195.2 L343.8,195.0" fill="none" stroke="#1414ff" stroke-width="1.85" stroke-linejoin="round" stroke-linecap="round" />
<path d="M38.4,226.5 L39.9,226.4 L41.4,226.4 L42.9,226.3 L44.4,226.2 L45.9,226.2 L47.4,226.1 L48.9,226.0 L50.4,226.0 L51.9,225.9 L53.4,225.9 L54.9,225.8 L56.4,225.8 L57.9,225.7 L59.4,225.7 L60.9,225.6 L62.4,225.6 L63.9,225.6 L65.4,225.5 L66.9,225.5 L68.4,225.5 L69.9,225.4 L71.4,225.4 L72.9,225.4 L74.4,225.3 L75.9,225.3 L77.4,225.3 L78.9,225.3 L80.4,225.2 L81.9,225.2 L83.4,225.2 L84.9,225.2 L86.4,225.1 L87.9,225.1 L89.4,225.1 L90.9,225.1 L92.4,225.1 L93.9,225.1 L95.4,225.1 L96.9,225.0 L98.4,225.0 L99.9,225.0 L101.4,225.0 L102.9,225.0 L104.4,225.0 L105.9,225.0 L107.4,225.0 L108.9,225.0 L110.4,225.0 L111.9,225.0 L113.4,225.0 L114.9,224.9 L116.4,224.9 L117.9,224.9 L119.4,224.9 L120.9,224.9 L122.4,224.9 L123.9,224.9 L125.4,224.9 L126.9,224.9 L128.4,224.9 L129.9,224.9 L131.4,224.9 L132.9,224.9 L134.4,224.9 L135.9,224.9 L137.4,224.9 L138.9,224.9 L140.4,224.9 L141.9,224.8 L143.4,224.8 L144.9,224.8 L146.4,224.8 L147.9,224.8 L149.4,224.8 L150.9,224.8 L152.4,224.8 L153.9,224.8 L155.4,224.7 L156.9,224.7 L158.4,224.7 L159.9,224.7 L161.4,224.7 L162.9,224.7 L164.4,224.6 L165.9,224.6 L167.4,224.6 L168.9,224.6 L170.4,224.6 L171.9,224.5 L173.4,224.5 L174.9,224.5 L176.4,224.4 L177.9,224.4 L179.4,224.4 L180.9,224.3 L182.4,224.3 L183.9,224.3 L185.4,224.2 L186.9,224.2 L188.4,224.1 L189.9,224.1 L191.4,224.1 L192.9,224.0 L194.4,224.0 L195.9,223.9 L197.4,223.8 L198.9,223.8 L200.4,223.7 L201.9,223.7 L203.4,223.6 L204.9,223.5 L206.4,223.5 L207.9,223.4 L209.4,223.3 L210.9,223.2 L212.4,223.2 L213.9,223.1 L215.4,223.0 L216.9,222.9 L218.4,222.8 L219.9,222.7 L221.4,222.6 L222.9,222.6 L224.4,222.5 L225.9,222.4 L227.4,222.2 L228.9,222.1 L230.4,222.0 L231.9,221.9 L233.4,221.8 L234.9,221.7 L236.4,221.6 L237.9,221.4 L239.4,221.3 L240.9,221.2 L242.4,221.0 L243.9,220.9 L245.4,220.7 L246.9,220.6 L248.4,220.4 L249.9,220.3 L251.4,220.1 L252.9,220.0 L254.4,219.8 L255.9,219.6 L257.4,219.5 L258.9,219.3 L260.4,219.1 L261.9,218.9 L263.4,218.7 L264.9,218.6 L266.4,218.4 L267.9,218.2 L269.4,218.0 L270.9,217.7 L272.4,217.5 L273.9,217.3 L275.4,217.1 L276.9,216.9 L278.4,216.6 L279.9,216.4 L281.4,216.2 L282.9,215.9 L284.4,215.7 L285.9,215.4 L287.4,215.2 L288.9,214.9 L290.4,214.7 L291.9,214.4 L293.4,214.1 L294.9,213.8 L296.4,213.5 L297.9,213.3 L299.4,213.0 L300.9,212.7 L302.4,212.4 L303.9,212.1 L305.4,211.7 L306.9,211.4 L308.4,211.1 L309.9,210.8 L311.4,210.4 L312.9,210.1 L314.4,209.7 L315.9,209.4 L317.4,209.0 L318.9,208.7 L319.2,208.6" fill="none" stroke="#ff1010" stroke-width="1.85" stroke-linejoin="round" stroke-linecap="round" />
<path d="M38.4,226.5 L39.9,226.4 L41.4,226.4 L42.9,226.3 L44.4,226.3 L45.9,226.2 L47.4,226.2 L48.9,226.1 L50.4,226.1 L51.9,226.0 L53.4,225.9 L54.9,225.9 L56.4,225.8 L57.9,225.8 L59.4,225.7 L60.9,225.7 L62.4,225.6 L63.9,225.5 L65.4,225.5 L66.9,225.4 L68.4,225.4 L69.9,225.3 L71.4,225.3 L72.9,225.2 L74.4,225.1 L75.9,225.1 L77.4,225.0 L78.9,225.0 L80.4,224.9 L81.9,224.9 L83.4,224.8 L84.9,224.7 L86.4,224.7 L87.9,224.6 L89.4,224.6 L90.9,224.5 L92.4,224.4 L93.9,224.4 L95.4,224.3 L96.9,224.3 L98.4,224.2 L99.9,224.1 L101.4,224.1 L102.9,224.0 L104.4,223.9 L105.9,223.9 L107.4,223.8 L108.9,223.7 L110.4,223.7 L111.9,223.6 L113.4,223.5 L114.9,223.5 L116.4,223.4 L117.9,223.3 L119.4,223.3 L120.9,223.2 L122.4,223.1 L123.9,223.1 L125.4,223.0 L126.9,222.9 L128.4,222.9 L129.9,222.8 L131.4,222.7 L132.9,222.6 L134.4,222.6 L135.9,222.5 L137.4,222.4 L138.9,222.3 L140.4,222.3 L141.9,222.2 L143.4,222.1 L144.9,222.0 L146.4,222.0 L147.9,221.9 L149.4,221.8 L150.9,221.7 L152.4,221.6 L153.9,221.5 L155.4,221.5 L156.9,221.4 L158.4,221.3 L159.9,221.2 L161.4,221.1 L162.9,221.0 L164.4,220.9 L165.9,220.9 L167.4,220.8 L168.9,220.7 L170.4,220.6 L171.9,220.5 L173.4,220.4 L174.9,220.3 L176.4,220.2 L177.9,220.1 L179.4,220.0 L180.9,219.9 L182.4,219.8 L183.9,219.7 L185.4,219.6 L186.9,219.5 L188.4,219.4 L189.9,219.3 L191.4,219.2 L192.9,219.1 L194.4,219.0 L195.9,218.8 L197.4,218.7 L198.9,218.6 L200.4,218.5 L201.9,218.4 L203.4,218.3 L204.9,218.1 L206.4,218.0 L207.9,217.9 L209.4,217.8 L210.9,217.6 L212.4,217.5 L213.9,217.4 L215.4,217.2 L216.9,217.1 L218.4,217.0 L219.9,216.8 L221.4,216.7 L222.9,216.5 L224.4,216.4 L225.9,216.3 L227.4,216.1 L228.9,216.0 L230.4,215.8 L231.9,215.7 L233.4,215.5 L234.9,215.3 L236.4,215.2 L237.9,215.0 L239.4,214.8 L240.9,214.7 L242.4,214.5 L243.9,214.3 L245.4,214.2 L246.9,214.0 L248.4,213.8 L249.9,213.6 L251.4,213.4 L252.9,213.3 L254.4,213.1 L255.0,213.0" fill="none" stroke="#000" stroke-width="1.90" stroke-linejoin="round" stroke-linecap="round" />
<path d="M255.0,213.0 L256.5,212.3 L258.0,211.5 L259.5,210.8 L261.0,210.0 L262.5,209.3 L264.0,208.5 L265.5,207.7 L267.0,206.9 L268.5,206.2 L270.0,205.4 L271.5,204.6 L273.0,203.8 L274.5,203.0 L276.0,202.2 L277.5,201.4 L279.0,200.7 L280.5,199.9 L282.0,199.1 L283.5,198.3 L285.0,197.5 L286.5,196.8 L288.0,196.0 L289.5,195.2 L291.0,194.5 L292.5,193.7 L294.0,193.0 L295.5,192.3 L297.0,191.5 L298.5,190.8 L300.0,190.1 L301.5,189.4 L303.0,188.8 L304.5,188.1 L306.0,187.4 L307.5,186.8 L309.0,186.2 L310.5,185.6 L312.0,185.0 L313.5,184.4 L315.0,183.8 L316.5,183.3 L318.0,182.8 L319.5,182.3 L319.7,182.2" fill="none" stroke="#000" stroke-width="1.90" stroke-linejoin="round" stroke-linecap="round" />
<path d="M319.7,182.2 L321.2,181.4 L322.7,180.5 L324.2,179.6 L325.7,178.8 L327.2,177.9 L328.7,177.0 L330.2,176.1 L331.7,175.2 L333.2,174.3 L334.7,173.4 L336.2,172.5 L337.7,171.6 L339.2,170.7 L340.7,169.8 L342.2,168.9 L343.7,168.0 L345.2,167.1 L346.7,166.1 L348.2,165.2 L349.7,164.3 L351.2,163.4 L352.7,162.5 L354.2,161.6 L355.7,160.7 L357.2,159.8 L358.7,158.9 L360.2,158.0 L361.7,157.1 L363.2,156.3 L364.7,155.4 L366.2,154.6 L367.7,153.7 L369.2,152.9 L370.7,152.1 L372.2,151.2 L373.7,150.4 L375.2,149.7 L376.7,148.9 L378.2,148.1 L379.7,147.4 L381.2,146.6 L382.7,145.9 L384.2,145.2 L385.7,144.5 L387.2,143.9 L388.7,143.2 L390.2,142.6 L391.7,142.0 L393.2,141.4 L394.7,140.8 L396.2,140.2 L397.7,139.7 L399.2,139.2 L400.7,138.7 L402.2,138.2 L403.7,137.8 L405.2,137.4 L406.7,137.0 L408.2,136.6 L409.7,136.3 L411.2,135.9 L412.7,135.6 L414.2,135.3 L415.7,135.1 L417.2,134.9 L418.7,134.6 L420.2,134.4 L421.7,134.2 L423.2,134.1 L424.7,133.9 L426.2,133.8 L427.7,133.7 L429.2,133.6 L430.7,133.5 L432.2,133.4 L433.7,133.3 L435.2,133.3 L436.7,133.2 L438.2,133.2 L439.7,133.2 L441.2,133.2 L442.7,133.2 L444.2,133.2 L445.7,133.2 L447.2,133.2 L448.7,133.2 L450.2,133.2 L451.7,133.3 L453.2,133.3 L454.7,133.3 L456.2,133.4 L457.7,133.4 L459.2,133.4 L460.7,133.5 L462.2,133.5 L463.7,133.6 L465.2,133.6 L466.7,133.6 L468.2,133.7 L469.7,133.7 L471.2,133.7 L472.7,133.7 L474.2,133.7 L475.7,133.7 L477.2,133.7 L478.7,133.7 L480.2,133.7 L481.7,133.7 L483.2,133.6 L484.7,133.6 L486.2,133.5 L487.7,133.4 L489.2,133.3 L490.7,133.2 L492.2,133.1 L493.3,133.0" fill="none" stroke="#000" stroke-width="1.90" stroke-linejoin="round" stroke-linecap="round" />
<path d="M319.7,182.2 L321.2,180.9 L322.7,179.7 L324.2,178.4 L325.7,177.1 L327.2,175.8 L328.7,174.6 L330.2,173.3 L331.7,172.0 L333.2,170.7 L334.7,169.4 L336.2,168.1 L337.7,166.8 L339.2,165.6 L340.7,164.3 L342.2,163.0 L343.7,161.7 L345.2,160.4 L346.7,159.1 L348.2,157.7 L349.7,156.4 L351.2,155.1 L352.7,153.8 L354.2,152.5 L355.7,151.2 L357.2,149.8 L358.7,148.5 L360.2,147.2 L361.7,145.8 L363.2,144.5 L364.7,143.2 L366.2,141.8 L367.7,140.5 L369.2,139.1 L370.7,137.8 L372.2,136.4 L373.7,135.1 L375.2,133.8 L376.7,132.4 L378.2,131.1 L379.7,129.7 L381.2,128.4 L382.7,127.0 L384.2,125.7 L385.7,124.3 L387.2,123.0 L388.7,121.7 L390.2,120.4 L391.7,119.0 L393.2,117.7 L394.7,116.4 L396.2,115.1 L397.7,113.8 L399.2,112.5 L400.7,111.2 L402.2,109.9 L403.7,108.6 L405.2,107.3 L406.7,106.0 L408.2,104.8 L409.7,103.5 L411.2,102.3 L412.7,101.0 L414.2,99.8 L415.7,98.5 L417.2,97.3 L418.7,96.1 L420.2,94.9 L421.7,93.7 L423.2,92.5 L424.7,91.3 L426.2,90.2 L427.7,89.0 L429.2,87.8 L430.7,86.7 L432.2,85.6 L433.7,84.4 L435.2,83.3 L436.7,82.2 L438.2,81.1 L439.7,80.0 L441.2,78.9 L442.7,77.9 L444.2,76.8 L445.7,75.8 L447.2,74.7 L448.7,73.7 L450.2,72.7 L451.7,71.7 L453.2,70.7 L454.7,69.7 L456.2,68.8 L457.7,67.8 L459.2,66.9 L460.7,66.0 L462.2,65.1 L463.7,64.2 L465.2,63.3 L466.7,62.4 L468.2,61.6 L469.7,60.7 L471.2,59.9 L472.7,59.1 L474.2,58.3 L475.7,57.5 L477.2,56.7 L478.7,56.0 L480.2,55.3 L481.7,54.5 L483.2,53.8 L484.7,53.2 L486.2,52.5 L487.7,51.8 L489.2,51.2 L490.7,50.6 L492.2,50.0 L493.3,49.6" fill="none" stroke="#000" stroke-width="1.90" stroke-linejoin="round" stroke-linecap="round" />
<path d="M343.8,195.0 L345.3,194.8 L346.8,194.7 L348.3,194.6 L349.8,194.4 L351.3,194.3 L352.8,194.1 L354.3,194.0 L355.8,193.9 L357.3,193.8 L358.8,193.7 L360.3,193.5 L361.8,193.4 L363.3,193.3 L364.8,193.2 L366.3,193.1 L367.8,193.1 L369.3,193.0 L370.8,192.9 L372.3,192.8 L373.8,192.7 L375.3,192.6 L376.8,192.6 L378.3,192.5 L379.8,192.5 L381.3,192.4 L382.8,192.3 L384.3,192.3 L385.8,192.2 L387.3,192.2 L388.8,192.1 L390.3,192.1 L391.8,192.1 L393.3,192.0 L394.8,192.0 L396.3,192.0 L397.8,191.9 L399.3,191.9 L400.8,191.9 L402.3,191.9 L403.8,191.9 L405.3,191.9 L406.8,191.8 L408.3,191.8 L409.8,191.8 L411.3,191.8 L412.8,191.8 L414.3,191.8 L415.8,191.8 L417.3,191.8 L418.8,191.9 L420.3,191.9 L421.8,191.9 L423.3,191.9 L424.8,191.9 L426.3,191.9 L427.8,191.9 L429.3,192.0 L430.8,192.0 L432.3,192.0 L433.8,192.0 L435.3,192.1 L436.8,192.1 L438.3,192.1 L439.8,192.2 L441.3,192.2 L442.8,192.2 L444.3,192.3 L445.8,192.3 L447.3,192.3 L448.8,192.4 L450.3,192.4 L451.8,192.5 L453.3,192.5 L454.8,192.5 L456.3,192.6 L457.8,192.6 L459.3,192.7 L460.8,192.7 L462.3,192.8 L463.8,192.8 L465.3,192.9 L466.8,192.9 L468.3,193.0 L469.8,193.0 L471.3,193.1 L472.8,193.1 L474.3,193.2 L475.8,193.2 L477.3,193.3 L478.8,193.3 L480.3,193.4 L481.8,193.4 L483.3,193.5 L484.8,193.5 L486.3,193.6 L487.8,193.6 L489.3,193.7 L490.8,193.7 L492.3,193.8 L493.3,193.8" fill="none" stroke="#1414ff" stroke-width="1.85" stroke-linejoin="round" stroke-linecap="round" />
<path d="M343.8,195.0 L345.3,194.6 L346.8,194.2 L348.3,193.8 L349.8,193.5 L351.3,193.1 L352.8,192.7 L354.3,192.3 L355.8,191.9 L357.3,191.6 L358.8,191.2 L360.3,190.8 L361.8,190.4 L363.3,190.1 L364.8,189.7 L366.3,189.3 L367.8,188.9 L369.3,188.6 L370.8,188.2 L372.3,187.8 L373.8,187.5 L375.3,187.1 L376.8,186.7 L378.3,186.4 L379.8,186.0 L381.3,185.6 L382.8,185.3 L384.3,184.9 L385.8,184.6 L387.3,184.2 L388.8,183.9 L390.3,183.5 L391.8,183.1 L393.3,182.8 L394.8,182.4 L396.3,182.1 L397.8,181.7 L399.3,181.4 L400.8,181.0 L402.3,180.7 L403.8,180.4 L405.3,180.0 L406.8,179.7 L408.3,179.3 L409.8,179.0 L411.3,178.6 L412.8,178.3 L414.3,178.0 L415.8,177.6 L417.3,177.3 L418.8,177.0 L420.3,176.6 L421.8,176.3 L423.3,176.0 L424.8,175.6 L426.3,175.3 L427.8,175.0 L429.3,174.7 L430.8,174.3 L432.3,174.0 L433.8,173.7 L435.3,173.4 L436.8,173.0 L438.3,172.7 L439.8,172.4 L441.3,172.1 L442.8,171.8 L444.3,171.5 L445.8,171.1 L447.3,170.8 L448.8,170.5 L450.3,170.2 L451.8,169.9 L453.3,169.6 L454.8,169.3 L456.3,169.0 L457.8,168.7 L459.3,168.4 L460.8,168.1 L462.3,167.8 L463.8,167.5 L465.3,167.2 L466.8,166.9 L468.3,166.6 L469.8,166.3 L471.3,166.0 L472.8,165.7 L474.3,165.4 L475.8,165.1 L477.3,164.8 L478.8,164.5 L480.3,164.2 L481.8,164.0 L483.3,163.7 L484.8,163.4 L486.3,163.1 L487.8,162.8 L489.3,162.5 L490.8,162.3 L492.3,162.0 L493.3,161.8" fill="none" stroke="#1414ff" stroke-width="1.85" stroke-linejoin="round" stroke-linecap="round" />
<path d="M319.2,208.6 L320.7,208.0 L322.2,207.3 L323.7,206.7 L325.2,206.0 L326.7,205.4 L328.2,204.7 L329.7,204.0 L331.2,203.4 L332.7,202.7 L334.2,202.0 L335.7,201.3 L337.2,200.6 L338.7,199.9 L340.2,199.2 L341.7,198.5 L343.2,197.9 L344.7,197.2 L346.2,196.5 L347.7,195.8 L349.2,195.1 L350.7,194.4 L352.2,193.7 L353.7,193.0 L355.2,192.3 L356.7,191.6 L358.2,190.9 L359.7,190.3 L361.2,189.6 L362.7,188.9 L364.2,188.2 L365.7,187.6 L367.2,186.9 L368.7,186.3 L370.2,185.6 L371.7,185.0 L373.2,184.3 L374.7,183.7 L376.2,183.1 L377.7,182.5 L379.2,181.9 L380.7,181.3 L382.2,180.7 L383.7,180.1 L385.2,179.6 L386.7,179.0 L388.2,178.5 L389.7,178.0 L391.2,177.4 L392.7,176.9 L394.2,176.4 L395.7,175.9 L397.2,175.5 L398.7,175.0 L400.2,174.6 L401.7,174.1 L403.2,173.7 L404.7,173.3 L406.2,173.0 L407.7,172.6 L409.2,172.2 L410.7,171.9 L412.2,171.5 L413.7,171.2 L415.2,170.9 L416.7,170.6 L418.2,170.3 L419.7,170.1 L421.2,169.8 L422.7,169.6 L424.2,169.3 L425.7,169.1 L427.2,168.9 L428.7,168.7 L430.2,168.5 L431.7,168.3 L433.2,168.2 L434.7,168.0 L436.2,167.8 L437.7,167.7 L439.2,167.6 L440.7,167.4 L442.2,167.3 L443.7,167.2 L445.2,167.1 L446.7,167.0 L448.2,166.9 L449.7,166.8 L451.2,166.8 L452.7,166.7 L454.2,166.7 L455.7,166.6 L457.2,166.6 L458.7,166.5 L460.2,166.5 L461.7,166.5 L463.2,166.4 L464.7,166.4 L466.2,166.4 L467.7,166.4 L469.2,166.4 L470.7,166.4 L472.2,166.4 L473.7,166.4 L475.2,166.4 L476.7,166.4 L478.2,166.4 L479.7,166.4 L481.2,166.5 L482.7,166.5 L484.2,166.5 L485.7,166.5 L487.2,166.6 L488.7,166.6 L490.2,166.6 L491.7,166.7 L493.2,166.7 L493.3,166.7" fill="none" stroke="#ff1010" stroke-width="1.85" stroke-linejoin="round" stroke-linecap="round" />
<path d="M319.2,208.6 L320.7,207.8 L322.2,206.9 L323.7,206.0 L325.2,205.2 L326.7,204.3 L328.2,203.4 L329.7,202.5 L331.2,201.6 L332.7,200.7 L334.2,199.8 L335.7,198.8 L337.2,197.9 L338.7,196.9 L340.2,196.0 L341.7,195.0 L343.2,194.1 L344.7,193.1 L346.2,192.1 L347.7,191.1 L349.2,190.2 L350.7,189.2 L352.2,188.2 L353.7,187.2 L355.2,186.2 L356.7,185.2 L358.2,184.2 L359.7,183.2 L361.2,182.2 L362.7,181.2 L364.2,180.1 L365.7,179.1 L367.2,178.1 L368.7,177.1 L370.2,176.1 L371.7,175.1 L373.2,174.1 L374.7,173.1 L376.2,172.1 L377.7,171.0 L379.2,170.0 L380.7,169.0 L382.2,168.0 L383.7,167.0 L385.2,166.1 L386.7,165.1 L388.2,164.1 L389.7,163.1 L391.2,162.1 L392.7,161.2 L394.2,160.2 L395.7,159.2 L397.2,158.3 L398.7,157.3 L400.2,156.4 L401.7,155.5 L403.2,154.6 L404.7,153.6 L406.2,152.7 L407.7,151.8 L409.2,150.9 L410.7,150.1 L412.2,149.2 L413.7,148.3 L415.2,147.5 L416.7,146.6 L418.2,145.8 L419.7,145.0 L421.2,144.2 L422.7,143.3 L424.2,142.5 L425.7,141.8 L427.2,141.0 L428.7,140.2 L430.2,139.4 L431.7,138.7 L433.2,137.9 L434.7,137.2 L436.2,136.4 L437.7,135.7 L439.2,135.0 L440.7,134.3 L442.2,133.6 L443.7,132.9 L445.2,132.2 L446.7,131.5 L448.2,130.8 L449.7,130.2 L451.2,129.5 L452.7,128.9 L454.2,128.2 L455.7,127.6 L457.2,127.0 L458.7,126.3 L460.2,125.7 L461.7,125.1 L463.2,124.5 L464.7,123.9 L466.2,123.4 L467.7,122.8 L469.2,122.2 L470.7,121.7 L472.2,121.1 L473.7,120.6 L475.2,120.1 L476.7,119.6 L478.2,119.1 L479.7,118.6 L481.2,118.1 L482.7,117.6 L484.2,117.2 L485.7,116.7 L487.2,116.3 L488.7,115.9 L490.2,115.4 L491.7,115.0 L493.2,114.6 L493.3,114.6" fill="none" stroke="#ff1010" stroke-width="1.85" stroke-linejoin="round" stroke-linecap="round" />
<path d="M329.30,199.20 C329.38,198.38 329.02,194.62 329.80,194.30 C330.58,193.98 332.72,196.08 334.00,197.30 C335.28,198.52 336.50,200.52 337.50,201.60 C338.50,202.68 338.75,203.03 340.00,203.80 C341.25,204.57 343.33,205.52 345.00,206.20 C346.67,206.88 347.50,207.30 350.00,207.90 C352.50,208.50 355.00,209.12 360.00,209.80 C365.00,210.48 373.33,211.37 380.00,212.00 C386.67,212.63 393.33,213.12 400.00,213.60 C406.67,214.08 411.67,214.45 420.00,214.90 C428.33,215.35 437.78,215.88 450.00,216.30 C462.22,216.72 486.08,217.22 493.30,217.40" fill="none" stroke="#1414ff" stroke-width="1.30" stroke-linejoin="round" stroke-dasharray="1.6 0.8" stroke-opacity="0.75"/>
<path d="M329.50,199.80 C329.63,198.38 329.47,192.05 330.30,191.30 C331.13,190.55 333.30,193.72 334.50,195.30 C335.70,196.88 336.58,199.42 337.50,200.80 C338.42,202.18 338.75,202.67 340.00,203.60 C341.25,204.53 343.33,205.62 345.00,206.40 C346.67,207.18 347.50,207.47 350.00,208.30 C352.50,209.13 355.00,210.42 360.00,211.40 C365.00,212.38 373.33,213.47 380.00,214.20 C386.67,214.93 393.33,215.35 400.00,215.80 C406.67,216.25 411.67,216.50 420.00,216.90 C428.33,217.30 437.78,217.80 450.00,218.20 C462.22,218.60 486.08,219.12 493.30,219.30" fill="none" stroke="#ff1010" stroke-width="1.30" stroke-linejoin="round" stroke-dasharray="1.6 0.8" stroke-opacity="0.75"/>
<text x="432.80" y="27.10" font-size="22.00" fill="#555555" font-family="Liberation Sans, sans-serif" letter-spacing="0.8">(a)</text>
<text x="498.00" y="54.85" font-size="10.20" fill="#555555" stroke="#555555" stroke-width="0.25" font-family="Liberation Sans, sans-serif" >RCP8.5</text>
<text x="498.00" y="119.80" font-size="10.20" fill="#a01c1c" stroke="#a01c1c" stroke-width="0.25" font-family="Liberation Sans, sans-serif" >RCP8.5</text>
<text x="498.00" y="137.60" font-size="10.20" fill="#555555" stroke="#555555" stroke-width="0.25" font-family="Liberation Sans, sans-serif" >RCP4.5</text>
<text x="498.00" y="163.20" font-size="10.20" fill="#232a8c" stroke="#232a8c" stroke-width="0.25" font-family="Liberation Sans, sans-serif" >RCP8.5</text>
<text x="498.00" y="172.60" font-size="10.20" fill="#a01c1c" stroke="#a01c1c" stroke-width="0.25" font-family="Liberation Sans, sans-serif" >RCP4.5</text>
<text x="498.00" y="197.50" font-size="10.20" fill="#232a8c" stroke="#232a8c" stroke-width="0.25" font-family="Liberation Sans, sans-serif" >RCP4.5</text>
<text x="498.00" y="217.60" font-size="10.20" fill="#232a8c" stroke="#232a8c" stroke-width="0.25" font-family="Liberation Sans, sans-serif" >Committed</text>
<text x="498.00" y="227.80" font-size="10.20" fill="#a01c1c" stroke="#a01c1c" stroke-width="0.25" font-family="Liberation Sans, sans-serif" >Committed</text>
<text transform="translate(15.4,109.1) rotate(-90)" font-size="11.7" text-anchor="middle" fill="#1e1e1e" font-family="Liberation Sans, sans-serif">Radiative Forcing [W m<tspan font-size="7.5" dy="-4">-2</tspan><tspan dy="4">]</tspan></text>
<path d="M38.40,484.30 L39.90,484.38 L41.40,484.45 L42.90,484.51 L44.40,484.57 L45.90,484.62 L47.40,484.65 L48.90,484.69 L50.40,484.71 L51.90,484.73 L53.40,484.74 L54.90,484.74 L56.40,484.74 L57.90,484.72 L59.40,484.71 L60.90,484.68 L62.40,484.66 L63.90,484.62 L65.40,484.58 L66.90,484.53 L68.40,484.48 L69.90,484.43 L71.40,484.37 L72.90,484.30 L74.40,484.23 L75.90,484.15 L77.40,484.08 L78.90,483.99 L80.40,483.91 L81.90,483.82 L83.40,483.72 L84.90,483.63 L86.40,483.53 L87.90,483.43 L89.40,483.32 L90.90,483.21 L92.40,483.10 L93.90,482.99 L95.40,482.88 L96.90,482.76 L98.40,482.65 L99.90,482.53 L101.40,482.41 L102.90,482.29 L104.40,482.17 L105.90,482.05 L107.40,481.93 L108.90,481.81 L110.40,481.69 L111.90,481.56 L113.40,481.44 L114.90,481.32 L116.40,481.20 L117.90,481.08 L119.40,480.97 L120.90,480.85 L122.40,480.74 L123.90,480.62 L125.40,480.51 L126.90,480.40 L128.40,480.30 L129.90,480.19 L131.40,480.09 L132.90,479.99 L134.40,479.90 L135.90,479.81 L137.40,479.72 L138.90,479.63 L140.40,479.55 L141.90,479.47 L143.40,479.40 L144.90,479.33 L146.40,479.26 L147.90,479.20 L149.40,479.14 L150.90,479.08 L152.40,479.03 L153.90,478.98 L155.40,478.93 L156.90,478.88 L158.40,478.84 L159.90,478.79 L161.40,478.75 L162.90,478.72 L164.40,478.68 L165.90,478.64 L167.40,478.61 L168.90,478.58 L170.40,478.54 L171.90,478.51 L173.40,478.48 L174.90,478.45 L176.40,478.43 L177.90,478.40 L179.40,478.37 L180.90,478.34 L182.40,478.31 L183.90,478.28 L185.40,478.25 L186.90,478.22 L188.40,478.19 L189.90,478.16 L191.40,478.13 L192.90,478.09 L194.40,478.06 L195.90,478.02 L197.40,477.98 L198.90,477.94 L200.40,477.90 L201.90,477.85 L203.40,477.80 L204.90,477.75 L206.40,477.70 L207.90,477.65 L209.40,477.59 L210.90,477.53 L212.40,477.46 L213.90,477.40 L215.40,477.32 L216.90,477.25 L218.40,477.17 L219.90,477.09 L221.40,477.00 L222.90,476.91 L224.40,476.81 L225.90,476.71 L227.40,476.61 L228.90,476.50 L230.40,476.39 L231.90,476.27 L233.40,476.14 L234.90,476.01 L236.40,475.87 L237.90,475.73 L239.40,475.58 L240.90,475.40 L242.40,475.18 L243.90,474.96 L245.40,474.73 L246.90,474.50 L248.40,474.26 L249.90,474.01 L251.40,473.76 L252.90,473.49 L254.40,473.22 L255.90,472.95 L257.40,472.66 L258.90,472.37 L260.40,472.06 L261.90,471.75 L263.40,471.42 L264.90,471.07 L266.40,470.72 L267.90,470.35 L269.40,469.96 L270.90,469.55 L272.40,469.12 L273.90,468.67 L275.40,468.21 L276.90,467.72 L278.40,467.22 L279.90,466.70 L281.40,466.17 L282.90,465.63 L284.40,465.08 L285.90,464.51 L287.40,463.94 L288.90,463.36 L290.40,462.78 L291.90,462.19 L293.40,461.60 L294.90,461.01 L296.40,460.41 L297.90,459.82 L299.40,459.22 L300.90,458.65 L302.40,458.08 L303.90,457.52 L305.40,456.95 L306.90,456.39 L308.40,455.83 L309.90,455.27 L311.40,454.72 L312.90,454.17 L314.40,453.62 L315.90,453.08 L317.40,452.55 L318.90,452.02 L320.40,451.49 L321.90,450.97 L323.40,450.46 L324.90,449.96 L326.40,449.46 L327.90,448.98 L329.40,448.50 L330.90,448.03 L332.40,447.57 L333.90,447.12 L335.40,446.68 L336.90,446.26 L338.40,445.84 L339.90,445.44 L341.40,445.05 L342.90,444.67 L343.00,444.64 L343.00,454.56 L342.90,454.58 L341.40,454.89 L339.90,455.21 L338.40,455.55 L336.90,455.90 L335.40,456.26 L333.90,456.63 L332.40,457.01 L330.90,457.40 L329.40,457.81 L327.90,458.22 L326.40,458.64 L324.90,459.07 L323.40,459.50 L321.90,459.95 L320.40,460.40 L318.90,460.86 L317.40,461.32 L315.90,461.79 L314.40,462.26 L312.90,462.74 L311.40,463.23 L309.90,463.71 L308.40,464.20 L306.90,464.70 L305.40,465.19 L303.90,465.69 L302.40,466.19 L300.90,466.69 L299.40,467.17 L297.90,467.64 L296.40,468.11 L294.90,468.58 L293.40,469.05 L291.90,469.52 L290.40,469.98 L288.90,470.44 L287.40,470.89 L285.90,471.34 L284.40,471.78 L282.90,472.21 L281.40,472.62 L279.90,473.03 L278.40,473.42 L276.90,473.80 L275.40,474.16 L273.90,474.50 L272.40,474.82 L270.90,475.12 L269.40,475.41 L267.90,475.67 L266.40,475.92 L264.90,476.15 L263.40,476.37 L261.90,476.57 L260.40,476.76 L258.90,476.94 L257.40,477.11 L255.90,477.27 L254.40,477.42 L252.90,477.57 L251.40,477.71 L249.90,477.84 L248.40,477.96 L246.90,478.07 L245.40,478.18 L243.90,478.29 L242.40,478.38 L240.90,478.47 L239.40,478.57 L237.90,478.71 L236.40,478.83 L234.90,478.95 L233.40,479.06 L231.90,479.17 L230.40,479.27 L228.90,479.37 L227.40,479.46 L225.90,479.55 L224.40,479.63 L222.90,479.71 L221.40,479.78 L219.90,479.85 L218.40,479.91 L216.90,479.97 L215.40,480.03 L213.90,480.09 L212.40,480.13 L210.90,480.18 L209.40,480.22 L207.90,480.26 L206.40,480.30 L204.90,480.34 L203.40,480.37 L201.90,480.40 L200.40,480.43 L198.90,480.45 L197.40,480.47 L195.90,480.49 L194.40,480.51 L192.90,480.53 L191.40,480.55 L189.90,480.56 L188.40,480.58 L186.90,480.59 L185.40,480.60 L183.90,480.61 L182.40,480.63 L180.90,480.64 L179.40,480.65 L177.90,480.66 L176.40,480.67 L174.90,480.68 L173.40,480.69 L171.90,480.70 L170.40,480.72 L168.90,480.73 L167.40,480.75 L165.90,480.76 L164.40,480.78 L162.90,480.80 L161.40,480.82 L159.90,480.84 L158.40,480.87 L156.90,480.89 L155.40,480.92 L153.90,480.95 L152.40,480.99 L150.90,481.02 L149.40,481.06 L147.90,481.10 L146.40,481.15 L144.90,481.20 L143.40,481.25 L141.90,481.31 L140.40,481.37 L138.90,481.43 L137.40,481.50 L135.90,481.57 L134.40,481.64 L132.90,481.72 L131.40,481.80 L129.90,481.89 L128.40,481.97 L126.90,482.06 L125.40,482.15 L123.90,482.24 L122.40,482.34 L120.90,482.44 L119.40,482.53 L117.90,482.63 L116.40,482.73 L114.90,482.84 L113.40,482.94 L111.90,483.04 L110.40,483.15 L108.90,483.25 L107.40,483.35 L105.90,483.46 L104.40,483.56 L102.90,483.66 L101.40,483.76 L99.90,483.87 L98.40,483.97 L96.90,484.06 L95.40,484.16 L93.90,484.26 L92.40,484.35 L90.90,484.44 L89.40,484.53 L87.90,484.62 L86.40,484.70 L84.90,484.78 L83.40,484.86 L81.90,484.94 L80.40,485.01 L78.90,485.08 L77.40,485.14 L75.90,485.20 L74.40,485.26 L72.90,485.31 L71.40,485.36 L69.90,485.41 L68.40,485.44 L66.90,485.48 L65.40,485.51 L63.90,485.53 L62.40,485.55 L60.90,485.56 L59.40,485.56 L57.90,485.56 L56.40,485.55 L54.90,485.54 L53.40,485.52 L51.90,485.49 L50.40,485.46 L48.90,485.42 L47.40,485.37 L45.90,485.31 L44.40,485.24 L42.90,485.17 L41.40,485.09 L39.90,485.00 L38.40,484.90 Z" fill="#0000ff" fill-opacity="0.10"/>
<path d="M38.40,484.10 L39.90,484.02 L41.40,483.94 L42.90,483.87 L44.40,483.79 L45.90,483.72 L47.40,483.65 L48.90,483.59 L50.40,483.52 L51.90,483.46 L53.40,483.39 L54.90,483.33 L56.40,483.27 L57.90,483.21 L59.40,483.16 L60.90,483.10 L62.40,483.05 L63.90,482.99 L65.40,482.94 L66.90,482.89 L68.40,482.84 L69.90,482.79 L71.40,482.75 L72.90,482.70 L74.40,482.66 L75.90,482.61 L77.40,482.57 L78.90,482.53 L80.40,482.49 L81.90,482.45 L83.40,482.41 L84.90,482.37 L86.40,482.33 L87.90,482.29 L89.40,482.26 L90.90,482.22 L92.40,482.19 L93.90,482.15 L95.40,482.12 L96.90,482.09 L98.40,482.06 L99.90,482.02 L101.40,481.99 L102.90,481.96 L104.40,481.93 L105.90,481.90 L107.40,481.87 L108.90,481.84 L110.40,481.81 L111.90,481.78 L113.40,481.75 L114.90,481.72 L116.40,481.69 L117.90,481.66 L119.40,481.63 L120.90,481.60 L122.40,481.57 L123.90,481.54 L125.40,481.51 L126.90,481.48 L128.40,481.45 L129.90,481.42 L131.40,481.39 L132.90,481.35 L134.40,481.32 L135.90,481.29 L137.40,481.26 L138.90,481.22 L140.40,481.19 L141.90,481.16 L143.40,481.12 L144.90,481.08 L146.40,481.05 L147.90,481.01 L149.40,480.97 L150.90,480.93 L152.40,480.90 L153.90,480.85 L155.40,480.81 L156.90,480.77 L158.40,480.73 L159.90,480.68 L161.40,480.64 L162.90,480.59 L164.40,480.55 L165.90,480.50 L167.40,480.45 L168.90,480.40 L170.40,480.34 L171.90,480.29 L173.40,480.24 L174.90,480.18 L176.40,480.12 L177.90,480.06 L179.40,480.00 L180.90,479.94 L182.40,479.88 L183.90,479.81 L185.40,479.74 L186.90,479.68 L188.40,479.60 L189.90,479.53 L191.40,479.46 L192.90,479.38 L194.40,479.31 L195.90,479.23 L197.40,479.15 L198.90,479.06 L200.40,478.98 L201.90,478.89 L203.40,478.80 L204.90,478.71 L206.40,478.62 L207.90,478.52 L209.40,478.42 L210.90,478.32 L212.40,478.22 L213.90,478.12 L215.40,478.01 L216.90,477.90 L218.40,477.79 L219.90,477.67 L221.40,477.56 L222.90,477.44 L224.40,477.31 L225.90,477.19 L227.40,477.06 L228.90,476.93 L230.40,476.80 L231.90,476.66 L233.40,476.53 L234.90,476.39 L236.40,476.24 L237.90,476.09 L239.40,475.94 L240.90,475.76 L242.40,475.55 L243.90,475.34 L245.40,475.12 L246.90,474.90 L248.40,474.68 L249.90,474.46 L251.40,474.23 L252.90,474.00 L254.40,473.76 L255.90,473.53 L257.40,473.28 L258.90,473.04 L260.40,472.79 L261.90,472.54 L263.40,472.28 L264.90,472.02 L266.40,471.76 L267.90,471.50 L269.40,471.23 L270.90,470.95 L272.40,470.68 L273.90,470.39 L275.40,470.11 L276.90,469.82 L278.40,469.53 L279.90,469.23 L281.40,468.93 L282.90,468.63 L284.40,468.32 L285.90,468.01 L287.40,467.69 L288.90,467.37 L290.40,467.04 L291.90,466.71 L293.40,466.38 L294.90,466.04 L296.40,465.70 L297.90,465.36 L299.40,465.00 L300.90,464.64 L302.40,464.27 L303.90,463.89 L305.40,463.51 L306.90,463.13 L308.40,462.74 L309.90,462.34 L311.40,461.94 L312.90,461.54 L314.40,461.13 L315.90,460.71 L317.40,460.29 L318.90,459.87 L320.40,459.46 L321.50,459.20 L321.50,469.20 L320.40,469.46 L318.90,469.76 L317.40,470.03 L315.90,470.30 L314.40,470.57 L312.90,470.83 L311.40,471.08 L309.90,471.33 L308.40,471.58 L306.90,471.82 L305.40,472.05 L303.90,472.28 L302.40,472.51 L300.90,472.73 L299.40,472.95 L297.90,473.18 L296.40,473.40 L294.90,473.62 L293.40,473.83 L291.90,474.04 L290.40,474.24 L288.90,474.44 L287.40,474.64 L285.90,474.83 L284.40,475.02 L282.90,475.20 L281.40,475.38 L279.90,475.56 L278.40,475.73 L276.90,475.90 L275.40,476.06 L273.90,476.22 L272.40,476.38 L270.90,476.53 L269.40,476.68 L267.90,476.82 L266.40,476.96 L264.90,477.10 L263.40,477.23 L261.90,477.36 L260.40,477.49 L258.90,477.61 L257.40,477.73 L255.90,477.85 L254.40,477.96 L252.90,478.07 L251.40,478.18 L249.90,478.28 L248.40,478.38 L246.90,478.48 L245.40,478.57 L243.90,478.66 L242.40,478.75 L240.90,478.83 L239.40,478.94 L237.90,479.07 L236.40,479.20 L234.90,479.32 L233.40,479.45 L231.90,479.57 L230.40,479.69 L228.90,479.80 L227.40,479.91 L225.90,480.02 L224.40,480.13 L222.90,480.23 L221.40,480.33 L219.90,480.43 L218.40,480.53 L216.90,480.62 L215.40,480.72 L213.90,480.81 L212.40,480.89 L210.90,480.98 L209.40,481.06 L207.90,481.14 L206.40,481.22 L204.90,481.29 L203.40,481.37 L201.90,481.44 L200.40,481.51 L198.90,481.57 L197.40,481.64 L195.90,481.70 L194.40,481.76 L192.90,481.82 L191.40,481.88 L189.90,481.94 L188.40,481.99 L186.90,482.04 L185.40,482.10 L183.90,482.14 L182.40,482.19 L180.90,482.24 L179.40,482.28 L177.90,482.32 L176.40,482.37 L174.90,482.41 L173.40,482.44 L171.90,482.48 L170.40,482.52 L168.90,482.55 L167.40,482.58 L165.90,482.62 L164.40,482.65 L162.90,482.68 L161.40,482.71 L159.90,482.73 L158.40,482.76 L156.90,482.78 L155.40,482.81 L153.90,482.83 L152.40,482.85 L150.90,482.88 L149.40,482.90 L147.90,482.92 L146.40,482.94 L144.90,482.95 L143.40,482.97 L141.90,482.99 L140.40,483.01 L138.90,483.02 L137.40,483.04 L135.90,483.05 L134.40,483.07 L132.90,483.08 L131.40,483.10 L129.90,483.11 L128.40,483.12 L126.90,483.13 L125.40,483.15 L123.90,483.16 L122.40,483.17 L120.90,483.18 L119.40,483.20 L117.90,483.21 L116.40,483.22 L114.90,483.23 L113.40,483.24 L111.90,483.26 L110.40,483.27 L108.90,483.28 L107.40,483.29 L105.90,483.30 L104.40,483.32 L102.90,483.33 L101.40,483.34 L99.90,483.36 L98.40,483.37 L96.90,483.39 L95.40,483.40 L93.90,483.42 L92.40,483.43 L90.90,483.45 L89.40,483.47 L87.90,483.49 L86.40,483.51 L84.90,483.53 L83.40,483.55 L81.90,483.57 L80.40,483.59 L78.90,483.61 L77.40,483.64 L75.90,483.66 L74.40,483.69 L72.90,483.72 L71.40,483.74 L69.90,483.77 L68.40,483.80 L66.90,483.83 L65.40,483.87 L63.90,483.90 L62.40,483.94 L60.90,483.97 L59.40,484.01 L57.90,484.05 L56.40,484.09 L54.90,484.13 L53.40,484.18 L51.90,484.22 L50.40,484.27 L48.90,484.32 L47.40,484.37 L45.90,484.42 L44.40,484.47 L42.90,484.53 L41.40,484.58 L39.90,484.64 L38.40,484.70 Z" fill="#ff0000" fill-opacity="0.095"/>
<path d="M343.00,444.60 L344.50,444.06 L346.00,443.52 L347.50,442.98 L349.00,442.43 L350.50,441.89 L352.00,441.34 L353.50,440.79 L355.00,440.24 L356.50,439.69 L358.00,439.14 L359.50,438.58 L361.00,438.03 L362.50,437.48 L364.00,436.92 L365.50,436.36 L367.00,435.81 L368.50,435.25 L370.00,434.69 L371.50,434.13 L373.00,433.57 L374.50,433.02 L376.00,432.46 L377.50,431.90 L379.00,431.34 L380.50,430.78 L382.00,430.22 L383.50,429.66 L385.00,429.10 L386.50,428.54 L388.00,427.98 L389.50,427.42 L391.00,426.86 L392.50,426.30 L394.00,425.74 L395.50,425.19 L397.00,424.63 L398.50,424.07 L400.00,423.52 L401.50,422.97 L403.00,422.41 L404.50,421.86 L406.00,421.31 L407.50,420.76 L409.00,420.21 L410.50,419.66 L412.00,419.11 L413.50,418.57 L415.00,418.03 L416.50,417.48 L418.00,416.94 L419.50,416.40 L421.00,415.87 L422.50,415.34 L424.00,414.82 L425.50,414.30 L427.00,413.78 L428.50,413.26 L430.00,412.74 L431.50,412.22 L433.00,411.71 L434.50,411.20 L436.00,410.69 L437.50,410.19 L439.00,409.68 L440.50,409.18 L442.00,408.68 L443.50,408.19 L445.00,407.70 L446.50,407.21 L448.00,406.72 L449.50,406.24 L451.00,405.75 L452.50,405.28 L454.00,404.80 L455.50,404.33 L457.00,403.86 L458.50,403.40 L460.00,402.93 L461.50,402.48 L463.00,402.02 L464.50,401.57 L466.00,401.12 L467.50,400.68 L469.00,400.24 L470.50,399.80 L472.00,399.37 L473.50,398.94 L475.00,398.52 L476.50,398.10 L478.00,397.68 L479.50,397.27 L481.00,396.86 L482.50,396.46 L484.00,396.06 L485.50,395.67 L487.00,395.28 L488.50,394.89 L490.00,394.51 L491.50,394.14 L493.00,393.77 L493.30,393.70 L493.30,408.70 L493.00,408.77 L491.50,409.10 L490.00,409.43 L488.50,409.77 L487.00,410.12 L485.50,410.46 L484.00,410.82 L482.50,411.17 L481.00,411.54 L479.50,411.90 L478.00,412.27 L476.50,412.65 L475.00,413.03 L473.50,413.41 L472.00,413.80 L470.50,414.19 L469.00,414.58 L467.50,414.98 L466.00,415.38 L464.50,415.79 L463.00,416.20 L461.50,416.61 L460.00,417.03 L458.50,417.45 L457.00,417.87 L455.50,418.30 L454.00,418.73 L452.50,419.17 L451.00,419.60 L449.50,420.04 L448.00,420.49 L446.50,420.93 L445.00,421.38 L443.50,421.83 L442.00,422.29 L440.50,422.74 L439.00,423.20 L437.50,423.67 L436.00,424.13 L434.50,424.60 L433.00,425.07 L431.50,425.54 L430.00,426.01 L428.50,426.49 L427.00,426.97 L425.50,427.45 L424.00,427.93 L422.50,428.41 L421.00,428.90 L419.50,429.38 L418.00,429.86 L416.50,430.35 L415.00,430.83 L413.50,431.32 L412.00,431.80 L410.50,432.29 L409.00,432.78 L407.50,433.27 L406.00,433.76 L404.50,434.26 L403.00,434.75 L401.50,435.24 L400.00,435.74 L398.50,436.24 L397.00,436.73 L395.50,437.23 L394.00,437.73 L392.50,438.23 L391.00,438.73 L389.50,439.23 L388.00,439.73 L386.50,440.23 L385.00,440.73 L383.50,441.23 L382.00,441.74 L380.50,442.24 L379.00,442.74 L377.50,443.24 L376.00,443.74 L374.50,444.24 L373.00,444.74 L371.50,445.24 L370.00,445.74 L368.50,446.24 L367.00,446.74 L365.50,447.24 L364.00,447.74 L362.50,448.24 L361.00,448.73 L359.50,449.23 L358.00,449.72 L356.50,450.22 L355.00,450.71 L353.50,451.20 L352.00,451.69 L350.50,452.18 L349.00,452.67 L347.50,453.15 L346.00,453.64 L344.50,454.12 L343.00,454.60 Z" fill="#0000ff" fill-opacity="0.10"/>
<path d="M343.00,444.60 L344.50,444.28 L346.00,443.97 L347.50,443.66 L349.00,443.36 L350.50,443.06 L352.00,442.77 L353.50,442.48 L355.00,442.20 L356.50,441.93 L358.00,441.66 L359.50,441.39 L361.00,441.13 L362.50,440.87 L364.00,440.62 L365.50,440.37 L367.00,440.13 L368.50,439.89 L370.00,439.66 L371.50,439.43 L373.00,439.21 L374.50,438.99 L376.00,438.77 L377.50,438.56 L379.00,438.36 L380.50,438.16 L382.00,437.96 L383.50,437.77 L385.00,437.58 L386.50,437.40 L388.00,437.22 L389.50,437.04 L391.00,436.87 L392.50,436.71 L394.00,436.54 L395.50,436.39 L397.00,436.23 L398.50,436.08 L400.00,435.94 L401.50,435.79 L403.00,435.66 L404.50,435.52 L406.00,435.39 L407.50,435.27 L409.00,435.15 L410.50,435.03 L412.00,434.91 L413.50,434.80 L415.00,434.69 L416.50,434.59 L418.00,434.49 L419.50,434.39 L421.00,434.30 L422.50,434.20 L424.00,434.11 L425.50,434.02 L427.00,433.94 L428.50,433.86 L430.00,433.78 L431.50,433.70 L433.00,433.63 L434.50,433.56 L436.00,433.50 L437.50,433.44 L439.00,433.38 L440.50,433.32 L442.00,433.27 L443.50,433.22 L445.00,433.18 L446.50,433.13 L448.00,433.09 L449.50,433.05 L451.00,433.02 L452.50,432.99 L454.00,432.96 L455.50,432.93 L457.00,432.91 L458.50,432.89 L460.00,432.87 L461.50,432.86 L463.00,432.84 L464.50,432.83 L466.00,432.83 L467.50,432.82 L469.00,432.82 L470.50,432.82 L472.00,432.82 L473.50,432.83 L475.00,432.83 L476.50,432.84 L478.00,432.86 L479.50,432.87 L481.00,432.89 L482.50,432.90 L484.00,432.92 L485.50,432.95 L487.00,432.97 L488.50,433.00 L490.00,433.03 L491.50,433.06 L493.00,433.09 L493.30,433.10 L493.30,443.70 L493.00,443.69 L491.50,443.65 L490.00,443.60 L488.50,443.56 L487.00,443.52 L485.50,443.49 L484.00,443.45 L482.50,443.42 L481.00,443.39 L479.50,443.36 L478.00,443.33 L476.50,443.31 L475.00,443.29 L473.50,443.27 L472.00,443.25 L470.50,443.23 L469.00,443.22 L467.50,443.21 L466.00,443.20 L464.50,443.20 L463.00,443.20 L461.50,443.20 L460.00,443.20 L458.50,443.21 L457.00,443.21 L455.50,443.22 L454.00,443.24 L452.50,443.25 L451.00,443.27 L449.50,443.30 L448.00,443.32 L446.50,443.35 L445.00,443.38 L443.50,443.41 L442.00,443.45 L440.50,443.49 L439.00,443.53 L437.50,443.58 L436.00,443.63 L434.50,443.68 L433.00,443.74 L431.50,443.80 L430.00,443.86 L428.50,443.93 L427.00,444.00 L425.50,444.07 L424.00,444.14 L422.50,444.22 L421.00,444.31 L419.50,444.39 L418.00,444.49 L416.50,444.59 L415.00,444.69 L413.50,444.80 L412.00,444.91 L410.50,445.03 L409.00,445.15 L407.50,445.27 L406.00,445.39 L404.50,445.52 L403.00,445.66 L401.50,445.79 L400.00,445.94 L398.50,446.08 L397.00,446.23 L395.50,446.39 L394.00,446.54 L392.50,446.71 L391.00,446.87 L389.50,447.04 L388.00,447.22 L386.50,447.40 L385.00,447.58 L383.50,447.77 L382.00,447.96 L380.50,448.16 L379.00,448.36 L377.50,448.56 L376.00,448.77 L374.50,448.99 L373.00,449.21 L371.50,449.43 L370.00,449.66 L368.50,449.89 L367.00,450.13 L365.50,450.37 L364.00,450.62 L362.50,450.87 L361.00,451.13 L359.50,451.39 L358.00,451.66 L356.50,451.93 L355.00,452.20 L353.50,452.48 L352.00,452.77 L350.50,453.06 L349.00,453.36 L347.50,453.66 L346.00,453.97 L344.50,454.28 L343.00,454.60 Z" fill="#0000ff" fill-opacity="0.10"/>
<path d="M321.50,459.16 L323.00,458.28 L324.50,457.39 L326.00,456.49 L327.50,455.57 L329.00,454.65 L330.50,453.71 L332.00,452.76 L333.50,451.81 L335.00,450.84 L336.50,449.86 L338.00,448.87 L339.50,447.88 L341.00,446.87 L342.50,445.86 L344.00,444.83 L345.50,443.80 L347.00,442.76 L348.50,441.71 L350.00,440.66 L351.50,439.59 L353.00,438.52 L354.50,437.44 L356.00,436.35 L357.50,435.26 L359.00,434.16 L360.50,433.06 L362.00,431.94 L363.50,430.83 L365.00,429.70 L366.50,428.58 L368.00,427.44 L369.50,426.30 L371.00,425.16 L372.50,424.01 L374.00,422.86 L375.50,421.70 L377.00,420.54 L378.50,419.38 L380.00,418.21 L381.50,417.04 L383.00,415.86 L384.50,414.69 L386.00,413.51 L387.50,412.33 L389.00,411.14 L390.50,409.96 L392.00,408.77 L393.50,407.58 L395.00,406.40 L396.50,405.21 L398.00,404.01 L399.50,402.82 L401.00,401.70 L402.50,400.60 L404.00,399.51 L405.50,398.41 L407.00,397.32 L408.50,396.23 L410.00,395.14 L411.50,394.05 L413.00,392.96 L414.50,391.88 L416.00,390.79 L417.50,389.71 L419.00,388.63 L420.50,387.55 L422.00,386.48 L423.50,385.41 L425.00,384.34 L426.50,383.27 L428.00,382.21 L429.50,381.16 L431.00,380.10 L432.50,379.06 L434.00,378.01 L435.50,376.98 L437.00,375.94 L438.50,374.91 L440.00,373.89 L441.50,372.88 L443.00,371.87 L444.50,370.86 L446.00,369.86 L447.50,368.87 L449.00,367.89 L450.50,366.91 L452.00,365.94 L453.50,364.98 L455.00,364.02 L456.50,363.08 L458.00,362.14 L459.50,361.21 L461.00,360.29 L462.50,359.38 L464.00,358.47 L465.50,357.58 L467.00,356.70 L468.50,355.82 L470.00,354.96 L471.50,354.11 L473.00,353.26 L474.50,352.43 L476.00,351.61 L477.50,350.80 L479.00,350.00 L480.50,349.21 L482.00,348.44 L483.50,347.67 L485.00,346.92 L486.50,346.18 L488.00,345.46 L489.50,344.74 L491.00,344.04 L492.50,343.36 L493.30,343.00 L493.30,364.00 L492.50,364.36 L491.00,365.04 L489.50,365.74 L488.00,366.46 L486.50,367.18 L485.00,367.92 L483.50,368.67 L482.00,369.44 L480.50,370.21 L479.00,371.00 L477.50,371.80 L476.00,372.61 L474.50,373.43 L473.00,374.26 L471.50,375.11 L470.00,375.96 L468.50,376.82 L467.00,377.70 L465.50,378.58 L464.00,379.47 L462.50,380.38 L461.00,381.29 L459.50,382.21 L458.00,383.14 L456.50,384.08 L455.00,385.02 L453.50,385.98 L452.00,386.94 L450.50,387.91 L449.00,388.89 L447.50,389.87 L446.00,390.86 L444.50,391.86 L443.00,392.87 L441.50,393.88 L440.00,394.89 L438.50,395.91 L437.00,396.94 L435.50,397.98 L434.00,399.01 L432.50,400.06 L431.00,401.10 L429.50,402.16 L428.00,403.21 L426.50,404.27 L425.00,405.34 L423.50,406.41 L422.00,407.48 L420.50,408.55 L419.00,409.63 L417.50,410.71 L416.00,411.79 L414.50,412.88 L413.00,413.96 L411.50,415.05 L410.00,416.14 L408.50,417.23 L407.00,418.32 L405.50,419.41 L404.00,420.51 L402.50,421.60 L401.00,422.70 L399.50,423.75 L398.00,424.74 L396.50,425.72 L395.00,426.70 L393.50,427.68 L392.00,428.66 L390.50,429.64 L389.00,430.61 L387.50,431.59 L386.00,432.56 L384.50,433.53 L383.00,434.50 L381.50,435.46 L380.00,436.42 L378.50,437.38 L377.00,438.34 L375.50,439.29 L374.00,440.24 L372.50,441.18 L371.00,442.12 L369.50,443.06 L368.00,443.99 L366.50,444.91 L365.00,445.83 L363.50,446.74 L362.00,447.65 L360.50,448.56 L359.00,449.45 L357.50,450.34 L356.00,451.23 L354.50,452.10 L353.00,452.97 L351.50,453.84 L350.00,454.69 L348.50,455.54 L347.00,456.38 L345.50,457.21 L344.00,458.04 L342.50,458.85 L341.00,459.66 L339.50,460.45 L338.00,461.24 L336.50,462.02 L335.00,462.79 L333.50,463.55 L332.00,464.30 L330.50,465.03 L329.00,465.76 L327.50,466.48 L326.00,467.18 L324.50,467.88 L323.00,468.56 L321.50,469.23 Z" fill="#ff0000" fill-opacity="0.095"/>
<path d="M321.50,459.19 L323.00,458.73 L324.50,458.26 L326.00,457.76 L327.50,457.24 L329.00,456.70 L330.50,456.14 L332.00,455.56 L333.50,454.97 L335.00,454.36 L336.50,453.73 L338.00,453.08 L339.50,452.42 L341.00,451.75 L342.50,451.06 L344.00,450.36 L345.50,449.65 L347.00,448.93 L348.50,448.19 L350.00,447.45 L351.50,446.69 L353.00,445.93 L354.50,445.16 L356.00,444.39 L357.50,443.60 L359.00,442.82 L360.50,442.02 L362.00,441.23 L363.50,440.43 L365.00,439.62 L366.50,438.82 L368.00,438.01 L369.50,437.21 L371.00,436.40 L372.50,435.59 L374.00,434.79 L375.50,433.99 L377.00,433.19 L378.50,432.40 L380.00,431.61 L381.50,430.83 L383.00,430.05 L384.50,429.28 L386.00,428.52 L387.50,427.77 L389.00,427.02 L390.50,426.29 L392.00,425.56 L393.50,424.85 L395.00,424.15 L396.50,423.46 L398.00,422.79 L399.50,422.13 L401.00,421.51 L402.50,420.92 L404.00,420.34 L405.50,419.78 L407.00,419.23 L408.50,418.70 L410.00,418.18 L411.50,417.67 L413.00,417.18 L414.50,416.70 L416.00,416.24 L417.50,415.79 L419.00,415.35 L420.50,414.92 L422.00,414.51 L423.50,414.11 L425.00,413.73 L426.50,413.35 L428.00,412.99 L429.50,412.64 L431.00,412.30 L432.50,411.97 L434.00,411.65 L435.50,411.35 L437.00,411.05 L438.50,410.77 L440.00,410.50 L441.50,410.23 L443.00,409.98 L444.50,409.74 L446.00,409.51 L447.50,409.28 L449.00,409.07 L450.50,408.86 L452.00,408.67 L453.50,408.48 L455.00,408.31 L456.50,408.14 L458.00,407.98 L459.50,407.83 L461.00,407.68 L462.50,407.55 L464.00,407.42 L465.50,407.30 L467.00,407.18 L468.50,407.08 L470.00,406.98 L471.50,406.89 L473.00,406.80 L474.50,406.72 L476.00,406.65 L477.50,406.58 L479.00,406.52 L480.50,406.47 L482.00,406.42 L483.50,406.37 L485.00,406.33 L486.50,406.30 L488.00,406.27 L489.50,406.24 L491.00,406.22 L492.50,406.21 L493.30,406.20 L493.30,423.20 L492.50,423.20 L491.00,423.18 L489.50,423.17 L488.00,423.16 L486.50,423.16 L485.00,423.16 L483.50,423.17 L482.00,423.18 L480.50,423.20 L479.00,423.22 L477.50,423.25 L476.00,423.28 L474.50,423.32 L473.00,423.37 L471.50,423.42 L470.00,423.48 L468.50,423.55 L467.00,423.63 L465.50,423.71 L464.00,423.79 L462.50,423.89 L461.00,423.99 L459.50,424.11 L458.00,424.23 L456.50,424.35 L455.00,424.49 L453.50,424.63 L452.00,424.79 L450.50,424.95 L449.00,425.12 L447.50,425.30 L446.00,425.49 L444.50,425.69 L443.00,425.90 L441.50,426.13 L440.00,426.36 L438.50,426.60 L437.00,426.85 L435.50,427.11 L434.00,427.38 L432.50,427.67 L431.00,427.96 L429.50,428.27 L428.00,428.59 L426.50,428.92 L425.00,429.26 L423.50,429.62 L422.00,429.99 L420.50,430.36 L419.00,430.76 L417.50,431.16 L416.00,431.58 L414.50,432.01 L413.00,432.46 L411.50,432.92 L410.00,433.39 L408.50,433.88 L407.00,434.38 L405.50,434.90 L404.00,435.43 L402.50,435.97 L401.00,436.53 L399.50,437.10 L398.00,437.66 L396.50,438.24 L395.00,438.84 L393.50,439.44 L392.00,440.06 L390.50,440.69 L389.00,441.33 L387.50,441.98 L386.00,442.64 L384.50,443.30 L383.00,443.98 L381.50,444.66 L380.00,445.35 L378.50,446.04 L377.00,446.74 L375.50,447.44 L374.00,448.15 L372.50,448.85 L371.00,449.56 L369.50,450.28 L368.00,450.99 L366.50,451.70 L365.00,452.41 L363.50,453.11 L362.00,453.82 L360.50,454.52 L359.00,455.22 L357.50,455.91 L356.00,456.60 L354.50,457.28 L353.00,457.96 L351.50,458.62 L350.00,459.28 L348.50,459.93 L347.00,460.57 L345.50,461.20 L344.00,461.82 L342.50,462.42 L341.00,463.02 L339.50,463.59 L338.00,464.16 L336.50,464.71 L335.00,465.24 L333.50,465.76 L332.00,466.26 L330.50,466.74 L329.00,467.21 L327.50,467.65 L326.00,468.07 L324.50,468.48 L323.00,468.86 L321.50,469.22 Z" fill="#ff0000" fill-opacity="0.095"/>
<line x1="80" y1="306.90" x2="161.8" y2="306.90" stroke="#2a2a2a" stroke-width="1.35"/>
<rect x="80" y="321.70" width="82" height="14" fill="#dcdcff"/>
<line x1="80" y1="328.70" x2="162" y2="328.70" stroke="#1414ff" stroke-width="1.4"/>
<rect x="80" y="344.00" width="82" height="14.2" fill="#ffdcdc"/>
<line x1="80" y1="351.00" x2="162" y2="351.00" stroke="#ff1010" stroke-width="1.5"/>
<text x="166.00" y="311.00" font-size="10.20" fill="#555555" stroke="#555555" stroke-width="0.25" font-family="Liberation Sans, sans-serif" >Global</text>
<text x="166.00" y="333.00" font-size="10.20" fill="#232a8c" stroke="#232a8c" stroke-width="0.25" font-family="Liberation Sans, sans-serif" >Annex 1</text>
<text x="166.00" y="354.80" font-size="10.20" fill="#a01c1c" stroke="#a01c1c" stroke-width="0.25" font-family="Liberation Sans, sans-serif" >Non-Annex 1</text>
<line x1="38.40" y1="473.70" x2="42.40" y2="473.70" stroke="#8a8a8a" stroke-width="1"/>
<line x1="493.30" y1="473.70" x2="489.30" y2="473.70" stroke="#8a8a8a" stroke-width="1"/>
<line x1="38.40" y1="462.60" x2="42.40" y2="462.60" stroke="#8a8a8a" stroke-width="1"/>
<line x1="493.30" y1="462.60" x2="489.30" y2="462.60" stroke="#8a8a8a" stroke-width="1"/>
<line x1="38.40" y1="451.50" x2="42.40" y2="451.50" stroke="#8a8a8a" stroke-width="1"/>
<line x1="493.30" y1="451.50" x2="489.30" y2="451.50" stroke="#8a8a8a" stroke-width="1"/>
<line x1="38.40" y1="440.40" x2="46.90" y2="440.40" stroke="#8a8a8a" stroke-width="1"/>
<line x1="493.30" y1="440.40" x2="484.80" y2="440.40" stroke="#8a8a8a" stroke-width="1"/>
<line x1="38.40" y1="429.30" x2="42.40" y2="429.30" stroke="#8a8a8a" stroke-width="1"/>
<line x1="493.30" y1="429.30" x2="489.30" y2="429.30" stroke="#8a8a8a" stroke-width="1"/>
<line x1="38.40" y1="418.20" x2="42.40" y2="418.20" stroke="#8a8a8a" stroke-width="1"/>
<line x1="493.30" y1="418.20" x2="489.30" y2="418.20" stroke="#8a8a8a" stroke-width="1"/>
<line x1="38.40" y1="407.10" x2="42.40" y2="407.10" stroke="#8a8a8a" stroke-width="1"/>
<line x1="493.30" y1="407.10" x2="489.30" y2="407.10" stroke="#8a8a8a" stroke-width="1"/>
<line x1="38.40" y1="396.00" x2="46.90" y2="396.00" stroke="#8a8a8a" stroke-width="1"/>
<line x1="493.30" y1="396.00" x2="484.80" y2="396.00" stroke="#8a8a8a" stroke-width="1"/>
<line x1="38.40" y1="384.90" x2="42.40" y2="384.90" stroke="#8a8a8a" stroke-width="1"/>
<line x1="493.30" y1="384.90" x2="489.30" y2="384.90" stroke="#8a8a8a" stroke-width="1"/>
<line x1="38.40" y1="373.80" x2="42.40" y2="373.80" stroke="#8a8a8a" stroke-width="1"/>
<line x1="493.30" y1="373.80" x2="489.30" y2="373.80" stroke="#8a8a8a" stroke-width="1"/>
<line x1="38.40" y1="362.70" x2="42.40" y2="362.70" stroke="#8a8a8a" stroke-width="1"/>
<line x1="493.30" y1="362.70" x2="489.30" y2="362.70" stroke="#8a8a8a" stroke-width="1"/>
<line x1="38.40" y1="351.60" x2="46.90" y2="351.60" stroke="#8a8a8a" stroke-width="1"/>
<line x1="493.30" y1="351.60" x2="484.80" y2="351.60" stroke="#8a8a8a" stroke-width="1"/>
<line x1="38.40" y1="340.50" x2="42.40" y2="340.50" stroke="#8a8a8a" stroke-width="1"/>
<line x1="493.30" y1="340.50" x2="489.30" y2="340.50" stroke="#8a8a8a" stroke-width="1"/>
<line x1="38.40" y1="329.40" x2="42.40" y2="329.40" stroke="#8a8a8a" stroke-width="1"/>
<line x1="493.30" y1="329.40" x2="489.30" y2="329.40" stroke="#8a8a8a" stroke-width="1"/>
<line x1="38.40" y1="318.30" x2="42.40" y2="318.30" stroke="#8a8a8a" stroke-width="1"/>
<line x1="493.30" y1="318.30" x2="489.30" y2="318.30" stroke="#8a8a8a" stroke-width="1"/>
<line x1="38.40" y1="307.20" x2="46.90" y2="307.20" stroke="#8a8a8a" stroke-width="1"/>
<line x1="493.30" y1="307.20" x2="484.80" y2="307.20" stroke="#8a8a8a" stroke-width="1"/>
<line x1="38.40" y1="296.10" x2="42.40" y2="296.10" stroke="#8a8a8a" stroke-width="1"/>
<line x1="493.30" y1="296.10" x2="489.30" y2="296.10" stroke="#8a8a8a" stroke-width="1"/>
<line x1="38.40" y1="285.00" x2="42.40" y2="285.00" stroke="#8a8a8a" stroke-width="1"/>
<line x1="493.30" y1="285.00" x2="489.30" y2="285.00" stroke="#8a8a8a" stroke-width="1"/>
<line x1="38.40" y1="273.90" x2="42.40" y2="273.90" stroke="#8a8a8a" stroke-width="1"/>
<line x1="493.30" y1="273.90" x2="489.30" y2="273.90" stroke="#8a8a8a" stroke-width="1"/>
<line x1="56.60" y1="484.80" x2="56.60" y2="482.30" stroke="#8a8a8a" stroke-width="1"/>
<line x1="56.60" y1="262.80" x2="56.60" y2="265.30" stroke="#8a8a8a" stroke-width="1"/>
<line x1="74.79" y1="484.80" x2="74.79" y2="482.30" stroke="#8a8a8a" stroke-width="1"/>
<line x1="74.79" y1="262.80" x2="74.79" y2="265.30" stroke="#8a8a8a" stroke-width="1"/>
<line x1="92.99" y1="484.80" x2="92.99" y2="482.30" stroke="#8a8a8a" stroke-width="1"/>
<line x1="92.99" y1="262.80" x2="92.99" y2="265.30" stroke="#8a8a8a" stroke-width="1"/>
<line x1="111.18" y1="484.80" x2="111.18" y2="482.30" stroke="#8a8a8a" stroke-width="1"/>
<line x1="111.18" y1="262.80" x2="111.18" y2="265.30" stroke="#8a8a8a" stroke-width="1"/>
<line x1="129.38" y1="484.80" x2="129.38" y2="480.30" stroke="#8a8a8a" stroke-width="1"/>
<line x1="129.38" y1="262.80" x2="129.38" y2="267.30" stroke="#8a8a8a" stroke-width="1"/>
<line x1="147.58" y1="484.80" x2="147.58" y2="482.30" stroke="#8a8a8a" stroke-width="1"/>
<line x1="147.58" y1="262.80" x2="147.58" y2="265.30" stroke="#8a8a8a" stroke-width="1"/>
<line x1="165.77" y1="484.80" x2="165.77" y2="482.30" stroke="#8a8a8a" stroke-width="1"/>
<line x1="165.77" y1="262.80" x2="165.77" y2="265.30" stroke="#8a8a8a" stroke-width="1"/>
<line x1="183.97" y1="484.80" x2="183.97" y2="482.30" stroke="#8a8a8a" stroke-width="1"/>
<line x1="183.97" y1="262.80" x2="183.97" y2="265.30" stroke="#8a8a8a" stroke-width="1"/>
<line x1="202.16" y1="484.80" x2="202.16" y2="482.30" stroke="#8a8a8a" stroke-width="1"/>
<line x1="202.16" y1="262.80" x2="202.16" y2="265.30" stroke="#8a8a8a" stroke-width="1"/>
<line x1="220.36" y1="484.80" x2="220.36" y2="480.30" stroke="#8a8a8a" stroke-width="1"/>
<line x1="220.36" y1="262.80" x2="220.36" y2="267.30" stroke="#8a8a8a" stroke-width="1"/>
<line x1="238.56" y1="484.80" x2="238.56" y2="482.30" stroke="#8a8a8a" stroke-width="1"/>
<line x1="238.56" y1="262.80" x2="238.56" y2="265.30" stroke="#8a8a8a" stroke-width="1"/>
<line x1="256.75" y1="484.80" x2="256.75" y2="482.30" stroke="#8a8a8a" stroke-width="1"/>
<line x1="256.75" y1="262.80" x2="256.75" y2="265.30" stroke="#8a8a8a" stroke-width="1"/>
<line x1="274.95" y1="484.80" x2="274.95" y2="482.30" stroke="#8a8a8a" stroke-width="1"/>
<line x1="274.95" y1="262.80" x2="274.95" y2="265.30" stroke="#8a8a8a" stroke-width="1"/>
<line x1="293.14" y1="484.80" x2="293.14" y2="482.30" stroke="#8a8a8a" stroke-width="1"/>
<line x1="293.14" y1="262.80" x2="293.14" y2="265.30" stroke="#8a8a8a" stroke-width="1"/>
<line x1="311.34" y1="484.80" x2="311.34" y2="480.30" stroke="#8a8a8a" stroke-width="1"/>
<line x1="311.34" y1="262.80" x2="311.34" y2="267.30" stroke="#8a8a8a" stroke-width="1"/>
<line x1="329.54" y1="484.80" x2="329.54" y2="482.30" stroke="#8a8a8a" stroke-width="1"/>
<line x1="329.54" y1="262.80" x2="329.54" y2="265.30" stroke="#8a8a8a" stroke-width="1"/>
<line x1="347.73" y1="484.80" x2="347.73" y2="482.30" stroke="#8a8a8a" stroke-width="1"/>
<line x1="347.73" y1="262.80" x2="347.73" y2="265.30" stroke="#8a8a8a" stroke-width="1"/>
<line x1="365.93" y1="484.80" x2="365.93" y2="482.30" stroke="#8a8a8a" stroke-width="1"/>
<line x1="365.93" y1="262.80" x2="365.93" y2="265.30" stroke="#8a8a8a" stroke-width="1"/>
<line x1="384.12" y1="484.80" x2="384.12" y2="482.30" stroke="#8a8a8a" stroke-width="1"/>
<line x1="384.12" y1="262.80" x2="384.12" y2="265.30" stroke="#8a8a8a" stroke-width="1"/>
<line x1="402.32" y1="484.80" x2="402.32" y2="480.30" stroke="#8a8a8a" stroke-width="1"/>
<line x1="402.32" y1="262.80" x2="402.32" y2="267.30" stroke="#8a8a8a" stroke-width="1"/>
<line x1="420.52" y1="484.80" x2="420.52" y2="482.30" stroke="#8a8a8a" stroke-width="1"/>
<line x1="420.52" y1="262.80" x2="420.52" y2="265.30" stroke="#8a8a8a" stroke-width="1"/>
<line x1="438.71" y1="484.80" x2="438.71" y2="482.30" stroke="#8a8a8a" stroke-width="1"/>
<line x1="438.71" y1="262.80" x2="438.71" y2="265.30" stroke="#8a8a8a" stroke-width="1"/>
<line x1="456.91" y1="484.80" x2="456.91" y2="482.30" stroke="#8a8a8a" stroke-width="1"/>
<line x1="456.91" y1="262.80" x2="456.91" y2="265.30" stroke="#8a8a8a" stroke-width="1"/>
<line x1="475.10" y1="484.80" x2="475.10" y2="482.30" stroke="#8a8a8a" stroke-width="1"/>
<line x1="475.10" y1="262.80" x2="475.10" y2="265.30" stroke="#8a8a8a" stroke-width="1"/>
<rect x="38.40" y="262.80" width="454.90" height="222.00" fill="none" stroke="#3c3c3c" stroke-width="1.3"/>
<text x="32.30" y="267.20" font-size="10.20" fill="#1e1e1e" text-anchor="end" stroke="#1e1e1e" stroke-width="0.25" font-family="Liberation Sans, sans-serif" >3.5</text>
<text x="32.30" y="311.60" font-size="10.20" fill="#1e1e1e" text-anchor="end" stroke="#1e1e1e" stroke-width="0.25" font-family="Liberation Sans, sans-serif" >2.8</text>
<text x="32.30" y="356.00" font-size="10.20" fill="#1e1e1e" text-anchor="end" stroke="#1e1e1e" stroke-width="0.25" font-family="Liberation Sans, sans-serif" >2.1</text>
<text x="32.30" y="400.40" font-size="10.20" fill="#1e1e1e" text-anchor="end" stroke="#1e1e1e" stroke-width="0.25" font-family="Liberation Sans, sans-serif" >1.4</text>
<text x="32.30" y="444.80" font-size="10.20" fill="#1e1e1e" text-anchor="end" stroke="#1e1e1e" stroke-width="0.25" font-family="Liberation Sans, sans-serif" >0.7</text>
<text x="38.40" y="497.60" font-size="10.40" fill="#1e1e1e" text-anchor="middle" stroke="#1e1e1e" stroke-width="0.25" font-family="Liberation Sans, sans-serif" >1850</text>
<text x="129.38" y="497.60" font-size="10.40" fill="#1e1e1e" text-anchor="middle" stroke="#1e1e1e" stroke-width="0.25" font-family="Liberation Sans, sans-serif" >1900</text>
<text x="220.36" y="497.60" font-size="10.40" fill="#1e1e1e" text-anchor="middle" stroke="#1e1e1e" stroke-width="0.25" font-family="Liberation Sans, sans-serif" >1950</text>
<text x="311.34" y="497.60" font-size="10.40" fill="#1e1e1e" text-anchor="middle" stroke="#1e1e1e" stroke-width="0.25" font-family="Liberation Sans, sans-serif" >2000</text>
<text x="402.32" y="497.60" font-size="10.40" fill="#1e1e1e" text-anchor="middle" stroke="#1e1e1e" stroke-width="0.25" font-family="Liberation Sans, sans-serif" >2050</text>
<text x="493.30" y="497.60" font-size="10.40" fill="#1e1e1e" text-anchor="middle" stroke="#1e1e1e" stroke-width="0.25" font-family="Liberation Sans, sans-serif" >2100</text>
<text x="265.60" y="504.90" font-size="13.20" fill="#1e1e1e" text-anchor="middle" stroke="#1e1e1e" stroke-width="0.25" font-family="Liberation Sans, sans-serif" >Year</text>
<path d="M38.4,484.5 L39.9,484.5 L41.4,484.5 L42.9,484.4 L44.4,484.4 L45.9,484.4 L47.4,484.3 L48.9,484.3 L50.4,484.3 L51.9,484.2 L53.4,484.2 L54.9,484.1 L56.4,484.1 L57.9,484.0 L59.4,484.0 L60.9,483.9 L62.4,483.9 L63.9,483.8 L65.4,483.7 L66.9,483.7 L68.4,483.6 L69.9,483.5 L71.4,483.4 L72.9,483.4 L74.4,483.3 L75.9,483.2 L77.4,483.1 L78.9,483.0 L80.4,483.0 L81.9,482.9 L83.4,482.8 L84.9,482.7 L86.4,482.6 L87.9,482.5 L89.4,482.4 L90.9,482.3 L92.4,482.2 L93.9,482.1 L95.4,482.0 L96.9,481.9 L98.4,481.8 L99.9,481.7 L101.4,481.6 L102.9,481.4 L104.4,481.3 L105.9,481.2 L107.4,481.1 L108.9,481.0 L110.4,480.9 L111.9,480.8 L113.4,480.6 L114.9,480.5 L116.4,480.4 L117.9,480.3 L119.4,480.1 L120.9,480.0 L122.4,479.9 L123.9,479.8 L125.4,479.6 L126.9,479.5 L128.4,479.4 L129.9,479.3 L131.4,479.1 L132.9,479.0 L134.4,478.9 L135.9,478.7 L137.4,478.6 L138.9,478.5 L140.4,478.4 L141.9,478.2 L143.4,478.1 L144.9,478.0 L146.4,477.8 L147.9,477.7 L149.4,477.6 L150.9,477.4 L152.4,477.3 L153.9,477.2 L155.4,477.0 L156.9,476.9 L158.4,476.8 L159.9,476.6 L161.4,476.5 L162.9,476.4 L164.4,476.2 L165.9,476.1 L167.4,476.0 L168.9,475.9 L170.4,475.7 L171.9,475.6 L173.4,475.5 L174.9,475.3 L176.4,475.2 L177.9,475.1 L179.4,475.0 L180.9,474.8 L182.4,474.7 L183.9,474.6 L185.4,474.5 L186.9,474.3 L188.4,474.2 L189.9,474.1 L191.4,474.0 L192.9,473.8 L194.4,473.7 L195.9,473.6 L197.4,473.5 L198.9,473.3 L200.4,473.2 L201.9,473.1 L203.4,472.9 L204.9,472.8 L206.4,472.7 L207.9,472.5 L209.4,472.4 L210.9,472.3 L212.4,472.1 L213.9,472.0 L215.4,471.9 L216.9,471.7 L218.4,471.6 L219.9,471.5 L221.4,471.3 L222.9,471.2 L224.4,471.0 L225.9,470.9 L227.4,470.7 L228.9,470.6 L230.4,470.4 L231.9,470.3 L233.4,470.1 L234.9,470.0 L236.4,469.8 L237.9,469.7 L239.4,469.5 L240.9,469.3 L242.4,469.2 L243.9,469.0 L245.4,468.8 L246.9,468.7 L248.4,468.5 L249.9,468.3 L251.4,468.1 L252.9,467.9 L254.4,467.7 L255.6,467.6" fill="none" stroke="#000" stroke-width="1.90" stroke-linejoin="round" stroke-linecap="round" />
<path d="M255.6,467.6 L257.1,467.0 L258.6,466.4 L260.1,465.8 L261.6,465.2 L263.1,464.5 L264.6,463.8 L266.1,463.1 L267.6,462.4 L269.1,461.7 L270.6,461.0 L272.1,460.2 L273.6,459.4 L275.1,458.7 L276.6,457.9 L278.1,457.1 L279.6,456.3 L281.1,455.5 L282.6,454.6 L284.1,453.8 L285.6,453.0 L287.1,452.1 L288.6,451.3 L290.1,450.4 L291.6,449.6 L293.1,448.8 L294.6,447.9 L296.1,447.1 L297.6,446.2 L299.1,445.4 L300.6,444.5 L302.1,443.7 L303.6,442.9 L305.1,442.0 L306.6,441.2 L308.1,440.4 L309.6,439.6 L311.1,438.8 L312.6,438.0 L314.1,437.3 L315.6,436.5 L317.1,435.8 L318.6,435.0 L320.1,434.3 L321.6,433.6 L323.1,433.0 L324.6,432.3 L326.1,431.6 L326.2,431.6" fill="none" stroke="#000" stroke-width="1.90" stroke-linejoin="round" stroke-linecap="round" />
<path d="M326.2,431.6 L327.7,430.9 L329.2,430.1 L330.7,429.3 L332.2,428.5 L333.7,427.7 L335.2,426.9 L336.7,426.0 L338.2,425.1 L339.7,424.2 L341.2,423.3 L342.7,422.4 L344.2,421.4 L345.7,420.5 L347.2,419.5 L348.7,418.5 L350.2,417.5 L351.7,416.5 L353.2,415.5 L354.7,414.5 L356.2,413.5 L357.7,412.5 L359.2,411.4 L360.7,410.4 L362.2,409.4 L363.7,408.3 L365.2,407.3 L366.7,406.2 L368.2,405.2 L369.7,404.1 L371.2,403.1 L372.7,402.0 L374.2,401.0 L375.7,400.0 L377.2,399.0 L378.7,397.9 L380.2,396.9 L381.7,395.9 L383.2,394.9 L384.7,393.9 L386.2,393.0 L387.7,392.0 L389.2,391.1 L390.7,390.1 L392.2,389.2 L393.7,388.3 L395.2,387.4 L396.7,386.6 L398.2,385.7 L399.7,384.9 L401.2,384.1 L402.7,383.3 L404.2,382.5 L405.7,381.8 L407.2,381.0 L408.7,380.4 L410.2,379.7 L411.7,379.0 L413.2,378.4 L414.7,377.8 L416.2,377.2 L417.7,376.7 L419.2,376.2 L420.7,375.6 L422.2,375.2 L423.7,374.7 L425.2,374.2 L426.7,373.8 L428.2,373.4 L429.7,373.0 L431.2,372.6 L432.7,372.3 L434.2,371.9 L435.7,371.6 L437.2,371.3 L438.7,371.0 L440.2,370.7 L441.7,370.4 L443.2,370.2 L444.7,369.9 L446.2,369.7 L447.7,369.5 L449.2,369.3 L450.7,369.1 L452.2,368.9 L453.7,368.7 L455.2,368.6 L456.7,368.4 L458.2,368.2 L459.7,368.1 L461.2,368.0 L462.7,367.8 L464.2,367.7 L465.7,367.6 L467.2,367.5 L468.7,367.4 L470.2,367.2 L471.7,367.1 L473.2,367.0 L474.7,366.9 L476.2,366.8 L477.7,366.7 L479.2,366.6 L480.7,366.5 L482.2,366.4 L483.7,366.3 L485.2,366.2 L486.7,366.1 L488.2,366.0 L489.7,365.9 L491.2,365.8 L492.7,365.7 L493.3,365.6" fill="none" stroke="#000" stroke-width="1.90" stroke-linejoin="round" stroke-linecap="round" />
<path d="M326.2,431.6 L327.7,430.4 L329.2,429.2 L330.7,427.9 L332.2,426.7 L333.7,425.4 L335.2,424.1 L336.7,422.7 L338.2,421.4 L339.7,420.0 L341.2,418.6 L342.7,417.2 L344.2,415.8 L345.7,414.4 L347.2,412.9 L348.7,411.5 L350.2,410.0 L351.7,408.5 L353.2,407.0 L354.7,405.4 L356.2,403.9 L357.7,402.3 L359.2,400.8 L360.7,399.2 L362.2,397.6 L363.7,396.0 L365.2,394.4 L366.7,392.8 L368.2,391.2 L369.7,389.5 L371.2,387.9 L372.7,386.3 L374.2,384.6 L375.7,382.9 L377.2,381.3 L378.7,379.6 L380.2,377.9 L381.7,376.3 L383.2,374.6 L384.7,372.9 L386.2,371.2 L387.7,369.6 L389.2,367.9 L390.7,366.2 L392.2,364.5 L393.7,362.8 L395.2,361.1 L396.7,359.5 L398.2,357.8 L399.7,356.1 L401.2,354.5 L402.7,352.8 L404.2,351.1 L405.7,349.5 L407.2,347.8 L408.7,346.2 L410.2,344.6 L411.7,342.9 L413.2,341.3 L414.7,339.7 L416.2,338.1 L417.7,336.5 L419.2,334.9 L420.7,333.4 L422.2,331.8 L423.7,330.3 L425.2,328.7 L426.7,327.2 L428.2,325.7 L429.7,324.2 L431.2,322.7 L432.7,321.2 L434.2,319.8 L435.7,318.3 L437.2,316.9 L438.7,315.5 L440.2,314.0 L441.7,312.6 L443.2,311.2 L444.7,309.8 L446.2,308.5 L447.7,307.1 L449.2,305.8 L450.7,304.4 L452.2,303.1 L453.7,301.8 L455.2,300.5 L456.7,299.2 L458.2,297.9 L459.7,296.6 L461.2,295.4 L462.7,294.1 L464.2,292.9 L465.7,291.6 L467.2,290.4 L468.7,289.2 L470.2,288.0 L471.7,286.8 L473.2,285.7 L474.7,284.5 L476.2,283.4 L477.7,282.3 L479.2,281.2 L480.7,280.1 L482.2,279.1 L483.7,278.0 L485.2,277.1 L486.7,276.1 L488.2,275.1 L489.7,274.2 L491.2,273.4 L492.7,272.5 L493.3,272.2" fill="none" stroke="#000" stroke-width="1.90" stroke-linejoin="round" stroke-linecap="round" />
<path d="M38.4,484.6 L39.9,484.7 L41.4,484.8 L42.9,484.8 L44.4,484.9 L45.9,485.0 L47.4,485.0 L48.9,485.1 L50.4,485.1 L51.9,485.1 L53.4,485.1 L54.9,485.1 L56.4,485.1 L57.9,485.1 L59.4,485.1 L60.9,485.1 L62.4,485.1 L63.9,485.1 L65.4,485.0 L66.9,485.0 L68.4,485.0 L69.9,484.9 L71.4,484.9 L72.9,484.8 L74.4,484.7 L75.9,484.7 L77.4,484.6 L78.9,484.5 L80.4,484.5 L81.9,484.4 L83.4,484.3 L84.9,484.2 L86.4,484.1 L87.9,484.0 L89.4,483.9 L90.9,483.8 L92.4,483.7 L93.9,483.6 L95.4,483.5 L96.9,483.4 L98.4,483.3 L99.9,483.2 L101.4,483.1 L102.9,483.0 L104.4,482.9 L105.9,482.8 L107.4,482.6 L108.9,482.5 L110.4,482.4 L111.9,482.3 L113.4,482.2 L114.9,482.1 L116.4,482.0 L117.9,481.9 L119.4,481.8 L120.9,481.6 L122.4,481.5 L123.9,481.4 L125.4,481.3 L126.9,481.2 L128.4,481.1 L129.9,481.0 L131.4,480.9 L132.9,480.9 L134.4,480.8 L135.9,480.7 L137.4,480.6 L138.9,480.5 L140.4,480.5 L141.9,480.4 L143.4,480.3 L144.9,480.3 L146.4,480.2 L147.9,480.2 L149.4,480.1 L150.9,480.1 L152.4,480.0 L153.9,480.0 L155.4,479.9 L156.9,479.9 L158.4,479.9 L159.9,479.8 L161.4,479.8 L162.9,479.8 L164.4,479.7 L165.9,479.7 L167.4,479.7 L168.9,479.7 L170.4,479.6 L171.9,479.6 L173.4,479.6 L174.9,479.6 L176.4,479.5 L177.9,479.5 L179.4,479.5 L180.9,479.5 L182.4,479.5 L183.9,479.4 L185.4,479.4 L186.9,479.4 L188.4,479.4 L189.9,479.4 L191.4,479.3 L192.9,479.3 L194.4,479.3 L195.9,479.3 L197.4,479.2 L198.9,479.2 L200.4,479.2 L201.9,479.1 L203.4,479.1 L204.9,479.0 L206.4,479.0 L207.9,479.0 L209.4,478.9 L210.9,478.9 L212.4,478.8 L213.9,478.7 L215.4,478.7 L216.9,478.6 L218.4,478.5 L219.9,478.5 L221.4,478.4 L222.9,478.3 L224.4,478.2 L225.9,478.1 L227.4,478.0 L228.9,477.9 L230.4,477.8 L231.9,477.7 L233.4,477.6 L234.9,477.5 L236.4,477.4 L237.9,477.2 L239.4,477.1 L240.9,476.9 L242.4,476.8 L243.9,476.6 L245.4,476.5 L246.9,476.3 L248.4,476.1 L249.9,475.9 L251.4,475.7 L252.9,475.5 L254.4,475.3 L255.9,475.1 L257.4,474.9 L258.9,474.7 L260.4,474.4 L261.9,474.2 L263.4,473.9 L264.9,473.6 L266.4,473.3 L267.9,473.0 L269.4,472.7 L270.9,472.3 L272.4,472.0 L273.9,471.6 L275.4,471.2 L276.9,470.8 L278.4,470.3 L279.9,469.9 L281.4,469.4 L282.9,468.9 L284.4,468.4 L285.9,467.9 L287.4,467.4 L288.9,466.9 L290.4,466.4 L291.9,465.9 L293.4,465.3 L294.9,464.8 L296.4,464.3 L297.9,463.7 L299.4,463.2 L300.9,462.7 L302.4,462.1 L303.9,461.6 L305.4,461.1 L306.9,460.5 L308.4,460.0 L309.9,459.5 L311.4,459.0 L312.9,458.5 L314.4,457.9 L315.9,457.4 L317.4,456.9 L318.9,456.4 L320.4,455.9 L321.9,455.5 L323.4,455.0 L324.9,454.5 L326.4,454.1 L327.9,453.6 L329.4,453.2 L330.9,452.7 L332.4,452.3 L333.9,451.9 L335.4,451.5 L336.9,451.1 L338.4,450.7 L339.9,450.3 L341.4,450.0 L342.9,449.6 L343.0,449.6" fill="none" stroke="#1414ff" stroke-width="1.85" stroke-linejoin="round" stroke-linecap="round" />
<path d="M343.0,449.6 L344.5,449.3 L346.0,449.0 L347.5,448.7 L349.0,448.4 L350.5,448.1 L352.0,447.8 L353.5,447.5 L355.0,447.2 L356.5,446.9 L358.0,446.7 L359.5,446.4 L361.0,446.1 L362.5,445.9 L364.0,445.6 L365.5,445.4 L367.0,445.1 L368.5,444.9 L370.0,444.7 L371.5,444.4 L373.0,444.2 L374.5,444.0 L376.0,443.8 L377.5,443.6 L379.0,443.4 L380.5,443.2 L382.0,443.0 L383.5,442.8 L385.0,442.6 L386.5,442.4 L388.0,442.2 L389.5,442.0 L391.0,441.9 L392.5,441.7 L394.0,441.5 L395.5,441.4 L397.0,441.2 L398.5,441.1 L400.0,440.9 L401.5,440.8 L403.0,440.7 L404.5,440.5 L406.0,440.4 L407.5,440.3 L409.0,440.1 L410.5,440.0 L412.0,439.9 L413.5,439.8 L415.0,439.7 L416.5,439.6 L418.0,439.5 L419.5,439.4 L421.0,439.3 L422.5,439.2 L424.0,439.1 L425.5,439.0 L427.0,439.0 L428.5,438.9 L430.0,438.8 L431.5,438.8 L433.0,438.7 L434.5,438.6 L436.0,438.6 L437.5,438.5 L439.0,438.5 L440.5,438.4 L442.0,438.4 L443.5,438.3 L445.0,438.3 L446.5,438.2 L448.0,438.2 L449.5,438.2 L451.0,438.1 L452.5,438.1 L454.0,438.1 L455.5,438.1 L457.0,438.1 L458.5,438.0 L460.0,438.0 L461.5,438.0 L463.0,438.0 L464.5,438.0 L466.0,438.0 L467.5,438.0 L469.0,438.0 L470.5,438.0 L472.0,438.0 L473.5,438.0 L475.0,438.1 L476.5,438.1 L478.0,438.1 L479.5,438.1 L481.0,438.1 L482.5,438.2 L484.0,438.2 L485.5,438.2 L487.0,438.2 L488.5,438.3 L490.0,438.3 L491.5,438.4 L493.0,438.4 L493.3,438.4" fill="none" stroke="#1414ff" stroke-width="1.85" stroke-linejoin="round" stroke-linecap="round" />
<path d="M343.0,449.6 L344.5,449.1 L346.0,448.6 L347.5,448.1 L349.0,447.5 L350.5,447.0 L352.0,446.5 L353.5,446.0 L355.0,445.5 L356.5,445.0 L358.0,444.4 L359.5,443.9 L361.0,443.4 L362.5,442.9 L364.0,442.3 L365.5,441.8 L367.0,441.3 L368.5,440.7 L370.0,440.2 L371.5,439.7 L373.0,439.2 L374.5,438.6 L376.0,438.1 L377.5,437.6 L379.0,437.0 L380.5,436.5 L382.0,436.0 L383.5,435.4 L385.0,434.9 L386.5,434.4 L388.0,433.9 L389.5,433.3 L391.0,432.8 L392.5,432.3 L394.0,431.7 L395.5,431.2 L397.0,430.7 L398.5,430.2 L400.0,429.6 L401.5,429.1 L403.0,428.6 L404.5,428.1 L406.0,427.5 L407.5,427.0 L409.0,426.5 L410.5,426.0 L412.0,425.5 L413.5,424.9 L415.0,424.4 L416.5,423.9 L418.0,423.4 L419.5,422.9 L421.0,422.4 L422.5,421.9 L424.0,421.4 L425.5,420.9 L427.0,420.4 L428.5,419.9 L430.0,419.4 L431.5,418.9 L433.0,418.4 L434.5,417.9 L436.0,417.4 L437.5,416.9 L439.0,416.4 L440.5,416.0 L442.0,415.5 L443.5,415.0 L445.0,414.5 L446.5,414.1 L448.0,413.6 L449.5,413.1 L451.0,412.7 L452.5,412.2 L454.0,411.8 L455.5,411.3 L457.0,410.9 L458.5,410.4 L460.0,410.0 L461.5,409.5 L463.0,409.1 L464.5,408.7 L466.0,408.3 L467.5,407.8 L469.0,407.4 L470.5,407.0 L472.0,406.6 L473.5,406.2 L475.0,405.8 L476.5,405.4 L478.0,405.0 L479.5,404.6 L481.0,404.2 L482.5,403.8 L484.0,403.4 L485.5,403.1 L487.0,402.7 L488.5,402.3 L490.0,402.0 L491.5,401.6 L493.0,401.3 L493.3,401.2" fill="none" stroke="#1414ff" stroke-width="1.85" stroke-linejoin="round" stroke-linecap="round" />
<path d="M38.4,484.4 L39.9,484.3 L41.4,484.3 L42.9,484.2 L44.4,484.1 L45.9,484.1 L47.4,484.0 L48.9,484.0 L50.4,483.9 L51.9,483.8 L53.4,483.8 L54.9,483.7 L56.4,483.7 L57.9,483.6 L59.4,483.6 L60.9,483.5 L62.4,483.5 L63.9,483.4 L65.4,483.4 L66.9,483.4 L68.4,483.3 L69.9,483.3 L71.4,483.2 L72.9,483.2 L74.4,483.2 L75.9,483.1 L77.4,483.1 L78.9,483.1 L80.4,483.0 L81.9,483.0 L83.4,483.0 L84.9,482.9 L86.4,482.9 L87.9,482.9 L89.4,482.9 L90.9,482.8 L92.4,482.8 L93.9,482.8 L95.4,482.8 L96.9,482.7 L98.4,482.7 L99.9,482.7 L101.4,482.7 L102.9,482.6 L104.4,482.6 L105.9,482.6 L107.4,482.6 L108.9,482.6 L110.4,482.5 L111.9,482.5 L113.4,482.5 L114.9,482.5 L116.4,482.5 L117.9,482.4 L119.4,482.4 L120.9,482.4 L122.4,482.4 L123.9,482.3 L125.4,482.3 L126.9,482.3 L128.4,482.3 L129.9,482.3 L131.4,482.2 L132.9,482.2 L134.4,482.2 L135.9,482.2 L137.4,482.1 L138.9,482.1 L140.4,482.1 L141.9,482.1 L143.4,482.0 L144.9,482.0 L146.4,482.0 L147.9,482.0 L149.4,481.9 L150.9,481.9 L152.4,481.9 L153.9,481.8 L155.4,481.8 L156.9,481.8 L158.4,481.7 L159.9,481.7 L161.4,481.7 L162.9,481.6 L164.4,481.6 L165.9,481.6 L167.4,481.5 L168.9,481.5 L170.4,481.4 L171.9,481.4 L173.4,481.3 L174.9,481.3 L176.4,481.2 L177.9,481.2 L179.4,481.1 L180.9,481.1 L182.4,481.0 L183.9,481.0 L185.4,480.9 L186.9,480.9 L188.4,480.8 L189.9,480.7 L191.4,480.7 L192.9,480.6 L194.4,480.5 L195.9,480.5 L197.4,480.4 L198.9,480.3 L200.4,480.2 L201.9,480.2 L203.4,480.1 L204.9,480.0 L206.4,479.9 L207.9,479.8 L209.4,479.7 L210.9,479.6 L212.4,479.6 L213.9,479.5 L215.4,479.4 L216.9,479.3 L218.4,479.2 L219.9,479.1 L221.4,478.9 L222.9,478.8 L224.4,478.7 L225.9,478.6 L227.4,478.5 L228.9,478.4 L230.4,478.2 L231.9,478.1 L233.4,478.0 L234.9,477.9 L236.4,477.7 L237.9,477.6 L239.4,477.4 L240.9,477.3 L242.4,477.2 L243.9,477.0 L245.4,476.8 L246.9,476.7 L248.4,476.5 L249.9,476.4 L251.4,476.2 L252.9,476.0 L254.4,475.9 L255.9,475.7 L257.4,475.5 L258.9,475.3 L260.4,475.1 L261.9,475.0 L263.4,474.8 L264.9,474.6 L266.4,474.4 L267.9,474.2 L269.4,474.0 L270.9,473.7 L272.4,473.5 L273.9,473.3 L275.4,473.1 L276.9,472.9 L278.4,472.6 L279.9,472.4 L281.4,472.2 L282.9,471.9 L284.4,471.7 L285.9,471.4 L287.4,471.2 L288.9,470.9 L290.4,470.6 L291.9,470.4 L293.4,470.1 L294.9,469.8 L296.4,469.6 L297.9,469.3 L299.4,469.0 L300.9,468.7 L302.4,468.4 L303.9,468.1 L305.4,467.8 L306.9,467.5 L308.4,467.2 L309.9,466.8 L311.4,466.5 L312.9,466.2 L314.4,465.8 L315.9,465.5 L317.4,465.2 L318.9,464.8 L320.4,464.5 L321.5,464.2" fill="none" stroke="#ff1010" stroke-width="1.85" stroke-linejoin="round" stroke-linecap="round" />
<path d="M321.5,464.2 L323.0,463.8 L324.5,463.3 L326.0,462.9 L327.5,462.4 L329.0,461.9 L330.5,461.4 L332.0,460.8 L333.5,460.3 L335.0,459.7 L336.5,459.1 L338.0,458.5 L339.5,457.9 L341.0,457.3 L342.5,456.6 L344.0,455.9 L345.5,455.3 L347.0,454.6 L348.5,453.9 L350.0,453.2 L351.5,452.5 L353.0,451.7 L354.5,451.0 L356.0,450.3 L357.5,449.5 L359.0,448.8 L360.5,448.0 L362.0,447.3 L363.5,446.5 L365.0,445.7 L366.5,445.0 L368.0,444.2 L369.5,443.4 L371.0,442.7 L372.5,441.9 L374.0,441.1 L375.5,440.4 L377.0,439.6 L378.5,438.9 L380.0,438.1 L381.5,437.4 L383.0,436.6 L384.5,435.9 L386.0,435.2 L387.5,434.5 L389.0,433.7 L390.5,433.0 L392.0,432.4 L393.5,431.7 L395.0,431.0 L396.5,430.4 L398.0,429.7 L399.5,429.1 L401.0,428.5 L402.5,427.9 L404.0,427.3 L405.5,426.8 L407.0,426.2 L408.5,425.7 L410.0,425.2 L411.5,424.7 L413.0,424.2 L414.5,423.7 L416.0,423.2 L417.5,422.8 L419.0,422.3 L420.5,421.9 L422.0,421.5 L423.5,421.1 L425.0,420.7 L426.5,420.4 L428.0,420.0 L429.5,419.6 L431.0,419.3 L432.5,419.0 L434.0,418.7 L435.5,418.3 L437.0,418.1 L438.5,417.8 L440.0,417.5 L441.5,417.2 L443.0,417.0 L444.5,416.7 L446.0,416.5 L447.5,416.3 L449.0,416.1 L450.5,415.9 L452.0,415.7 L453.5,415.5 L455.0,415.3 L456.5,415.1 L458.0,415.0 L459.5,414.8 L461.0,414.7 L462.5,414.5 L464.0,414.4 L465.5,414.3 L467.0,414.2 L468.5,414.1 L470.0,414.0 L471.5,413.9 L473.0,413.8 L474.5,413.7 L476.0,413.6 L477.5,413.6 L479.0,413.5 L480.5,413.5 L482.0,413.4 L483.5,413.4 L485.0,413.3 L486.5,413.3 L488.0,413.3 L489.5,413.2 L491.0,413.2 L492.5,413.2 L493.3,413.2" fill="none" stroke="#ff1010" stroke-width="1.85" stroke-linejoin="round" stroke-linecap="round" />
<path d="M321.5,464.2 L323.0,463.4 L324.5,462.7 L326.0,461.9 L327.5,461.1 L329.0,460.3 L330.5,459.4 L332.0,458.6 L333.5,457.8 L335.0,456.9 L336.5,456.0 L338.0,455.2 L339.5,454.3 L341.0,453.4 L342.5,452.5 L344.0,451.6 L345.5,450.7 L347.0,449.7 L348.5,448.8 L350.0,447.9 L351.5,446.9 L353.0,445.9 L354.5,445.0 L356.0,444.0 L357.5,443.0 L359.0,442.0 L360.5,441.1 L362.0,440.1 L363.5,439.1 L365.0,438.0 L366.5,437.0 L368.0,436.0 L369.5,435.0 L371.0,434.0 L372.5,432.9 L374.0,431.9 L375.5,430.8 L377.0,429.8 L378.5,428.7 L380.0,427.7 L381.5,426.6 L383.0,425.6 L384.5,424.5 L386.0,423.4 L387.5,422.4 L389.0,421.3 L390.5,420.2 L392.0,419.2 L393.5,418.1 L395.0,417.0 L396.5,415.9 L398.0,414.9 L399.5,413.8 L401.0,412.7 L402.5,411.6 L404.0,410.6 L405.5,409.5 L407.0,408.4 L408.5,407.3 L410.0,406.2 L411.5,405.2 L413.0,404.1 L414.5,403.0 L416.0,402.0 L417.5,400.9 L419.0,399.8 L420.5,398.8 L422.0,397.7 L423.5,396.7 L425.0,395.6 L426.5,394.6 L428.0,393.5 L429.5,392.5 L431.0,391.4 L432.5,390.4 L434.0,389.4 L435.5,388.4 L437.0,387.3 L438.5,386.3 L440.0,385.3 L441.5,384.3 L443.0,383.3 L444.5,382.3 L446.0,381.4 L447.5,380.4 L449.0,379.4 L450.5,378.5 L452.0,377.5 L453.5,376.6 L455.0,375.6 L456.5,374.7 L458.0,373.8 L459.5,372.8 L461.0,371.9 L462.5,371.0 L464.0,370.2 L465.5,369.3 L467.0,368.4 L468.5,367.6 L470.0,366.7 L471.5,365.9 L473.0,365.0 L474.5,364.2 L476.0,363.4 L477.5,362.6 L479.0,361.8 L480.5,361.1 L482.0,360.3 L483.5,359.6 L485.0,358.8 L486.5,358.1 L488.0,357.4 L489.5,356.7 L491.0,356.0 L492.5,355.4 L493.3,355.0" fill="none" stroke="#ff1010" stroke-width="1.85" stroke-linejoin="round" stroke-linecap="round" />
<path d="M338.50,456.00 C338.95,456.13 340.03,456.52 341.20,456.80 C342.37,457.08 343.70,457.27 345.50,457.70 C347.30,458.13 349.58,458.85 352.00,459.40 C354.42,459.95 355.33,460.28 360.00,461.00 C364.67,461.72 373.33,462.82 380.00,463.70 C386.67,464.58 393.33,465.53 400.00,466.30 C406.67,467.07 410.00,467.58 420.00,468.30 C430.00,469.02 447.78,469.95 460.00,470.60 C472.22,471.25 487.75,471.93 493.30,472.20" fill="none" stroke="#1414ff" stroke-width="1.30" stroke-linejoin="round" stroke-dasharray="1.6 0.8" stroke-opacity="0.75"/>
<path d="M331.30,458.60 C331.67,457.98 332.32,455.38 333.50,454.90 C334.68,454.42 337.12,455.38 338.40,455.70 C339.68,456.02 340.02,456.32 341.20,456.80 C342.38,457.28 343.70,458.00 345.50,458.60 C347.30,459.20 349.58,459.83 352.00,460.40 C354.42,460.97 355.33,461.18 360.00,462.00 C364.67,462.82 375.00,464.42 380.00,465.30 C385.00,466.18 386.67,466.68 390.00,467.30 C393.33,467.92 395.00,468.42 400.00,469.00 C405.00,469.58 410.00,470.17 420.00,470.80 C430.00,471.43 447.78,472.22 460.00,472.80 C472.22,473.38 487.75,474.05 493.30,474.30" fill="none" stroke="#ff1010" stroke-width="1.30" stroke-linejoin="round" stroke-dasharray="1.6 0.8" stroke-opacity="0.75"/>
<text x="432.80" y="285.30" font-size="22.00" fill="#555555" font-family="Liberation Sans, sans-serif" letter-spacing="0.8">(b)</text>
<text x="497.30" y="277.40" font-size="10.20" fill="#555555" stroke="#555555" stroke-width="0.25" font-family="Liberation Sans, sans-serif" >RCP8.5</text>
<text x="497.30" y="358.60" font-size="10.20" fill="#a01c1c" stroke="#a01c1c" stroke-width="0.25" font-family="Liberation Sans, sans-serif" >RCP8.5</text>
<text x="497.30" y="369.50" font-size="10.20" fill="#555555" stroke="#555555" stroke-width="0.25" font-family="Liberation Sans, sans-serif" >RCP4.5</text>
<text x="497.30" y="407.00" font-size="10.20" fill="#232a8c" stroke="#232a8c" stroke-width="0.25" font-family="Liberation Sans, sans-serif" >RCP8.5</text>
<text x="497.30" y="419.70" font-size="10.20" fill="#a01c1c" stroke="#a01c1c" stroke-width="0.25" font-family="Liberation Sans, sans-serif" >RCP4.5</text>
<text x="497.30" y="444.40" font-size="10.20" fill="#232a8c" stroke="#232a8c" stroke-width="0.25" font-family="Liberation Sans, sans-serif" >RCP4.5</text>
<text x="497.30" y="472.20" font-size="10.20" fill="#232a8c" stroke="#232a8c" stroke-width="0.25" font-family="Liberation Sans, sans-serif" >Committed</text>
<text x="497.30" y="482.60" font-size="10.20" fill="#a01c1c" stroke="#a01c1c" stroke-width="0.25" font-family="Liberation Sans, sans-serif" >Committed</text>
<text transform="translate(10.7,369.4) rotate(-90)" font-size="11.8" text-anchor="middle" fill="#1e1e1e" font-family="Liberation Sans, sans-serif">Global T<tspan font-size="7.5" dy="3">sfc</tspan><tspan dy="-3"> change [K]</tspan></text>
<text x="309.10" y="33.40" font-size="7.80" fill="#555555" stroke="#555555" stroke-width="0.08" font-family="Liberation Sans, sans-serif" >Likelihood of crossover</text>
<text x="320.00" y="42.30" font-size="7.80" fill="#555555" stroke="#555555" stroke-width="0.08" font-family="Liberation Sans, sans-serif" >since year 1990</text>
<text x="316.00" y="58.60" font-size="7.80" fill="#555555" stroke="#555555" stroke-width="0.08" font-family="Liberation Sans, sans-serif" >10%</text>
<text x="343.80" y="58.60" font-size="7.80" fill="#555555" stroke="#555555" stroke-width="0.08" font-family="Liberation Sans, sans-serif" >50%</text>
<text x="363.50" y="58.60" font-size="7.80" fill="#555555" stroke="#555555" stroke-width="0.08" font-family="Liberation Sans, sans-serif" >90%</text>
<line x1="320.0" y1="62.30" x2="367.9" y2="62.30" stroke="#555555" stroke-width="1.1"/>
<line x1="320.0" y1="60.10" x2="320.0" y2="64.50" stroke="#555555" stroke-width="1.1"/>
<line x1="367.9" y1="60.10" x2="367.9" y2="64.50" stroke="#555555" stroke-width="1.1"/>
<line x1="320.0" y1="73.80" x2="374.8" y2="73.80" stroke="#555555" stroke-width="1.1"/>
<line x1="320.0" y1="71.60" x2="320.0" y2="76.00" stroke="#555555" stroke-width="1.1"/>
<line x1="374.8" y1="71.60" x2="374.8" y2="76.00" stroke="#555555" stroke-width="1.1"/>
<line x1="347.5" y1="62.30" x2="347.5" y2="191.00" stroke="#555" stroke-width="0.9" stroke-dasharray="2.5 1.8"/>
<line x1="354.4" y1="73.80" x2="354.4" y2="194.20" stroke="#555" stroke-width="0.9" stroke-dasharray="2.5 1.8"/>
<text x="318.20" y="91.10" font-size="7.80" fill="#555555" stroke="#555555" stroke-width="0.08" font-family="Liberation Sans, sans-serif" >RCP8.5</text>
<text x="358.00" y="91.10" font-size="7.80" fill="#555555" stroke="#555555" stroke-width="0.08" font-family="Liberation Sans, sans-serif" >RCP4.5</text>
<text x="323.70" y="290.30" font-size="7.80" fill="#555555" stroke="#555555" stroke-width="0.08" font-family="Liberation Sans, sans-serif" >Likelihood of crossover</text>
<text x="334.60" y="299.60" font-size="7.80" fill="#555555" stroke="#555555" stroke-width="0.08" font-family="Liberation Sans, sans-serif" >since year 1990</text>
<text x="326.00" y="316.50" font-size="7.80" fill="#555555" stroke="#555555" stroke-width="0.08" font-family="Liberation Sans, sans-serif" >10%</text>
<text x="353.80" y="316.50" font-size="7.80" fill="#555555" stroke="#555555" stroke-width="0.08" font-family="Liberation Sans, sans-serif" >50%</text>
<text x="385.70" y="316.50" font-size="7.80" fill="#555555" stroke="#555555" stroke-width="0.08" font-family="Liberation Sans, sans-serif" >90%</text>
<line x1="331.0" y1="321.50" x2="390.7" y2="321.50" stroke="#555555" stroke-width="1.1"/>
<line x1="331.0" y1="319.30" x2="331.0" y2="323.70" stroke="#555555" stroke-width="1.1"/>
<line x1="390.7" y1="319.30" x2="390.7" y2="323.70" stroke="#555555" stroke-width="1.1"/>
<line x1="335.5" y1="339.40" x2="400.7" y2="339.40" stroke="#555555" stroke-width="1.1"/>
<line x1="335.5" y1="337.20" x2="335.5" y2="341.60" stroke="#555555" stroke-width="1.1"/>
<line x1="400.7" y1="337.20" x2="400.7" y2="341.60" stroke="#555555" stroke-width="1.1"/>
<line x1="360.2" y1="321.50" x2="360.2" y2="437.50" stroke="#555" stroke-width="0.9" stroke-dasharray="2.5 1.8"/>
<line x1="366.9" y1="339.40" x2="366.9" y2="444.50" stroke="#555" stroke-width="0.9" stroke-dasharray="2.5 1.8"/>
<text x="329.70" y="354.60" font-size="7.80" fill="#555555" stroke="#555555" stroke-width="0.08" font-family="Liberation Sans, sans-serif" >RCP8.5</text>
<text x="370.80" y="354.60" font-size="7.80" fill="#555555" stroke="#555555" stroke-width="0.08" font-family="Liberation Sans, sans-serif" >RCP4.5</text>
</svg></body></html>
